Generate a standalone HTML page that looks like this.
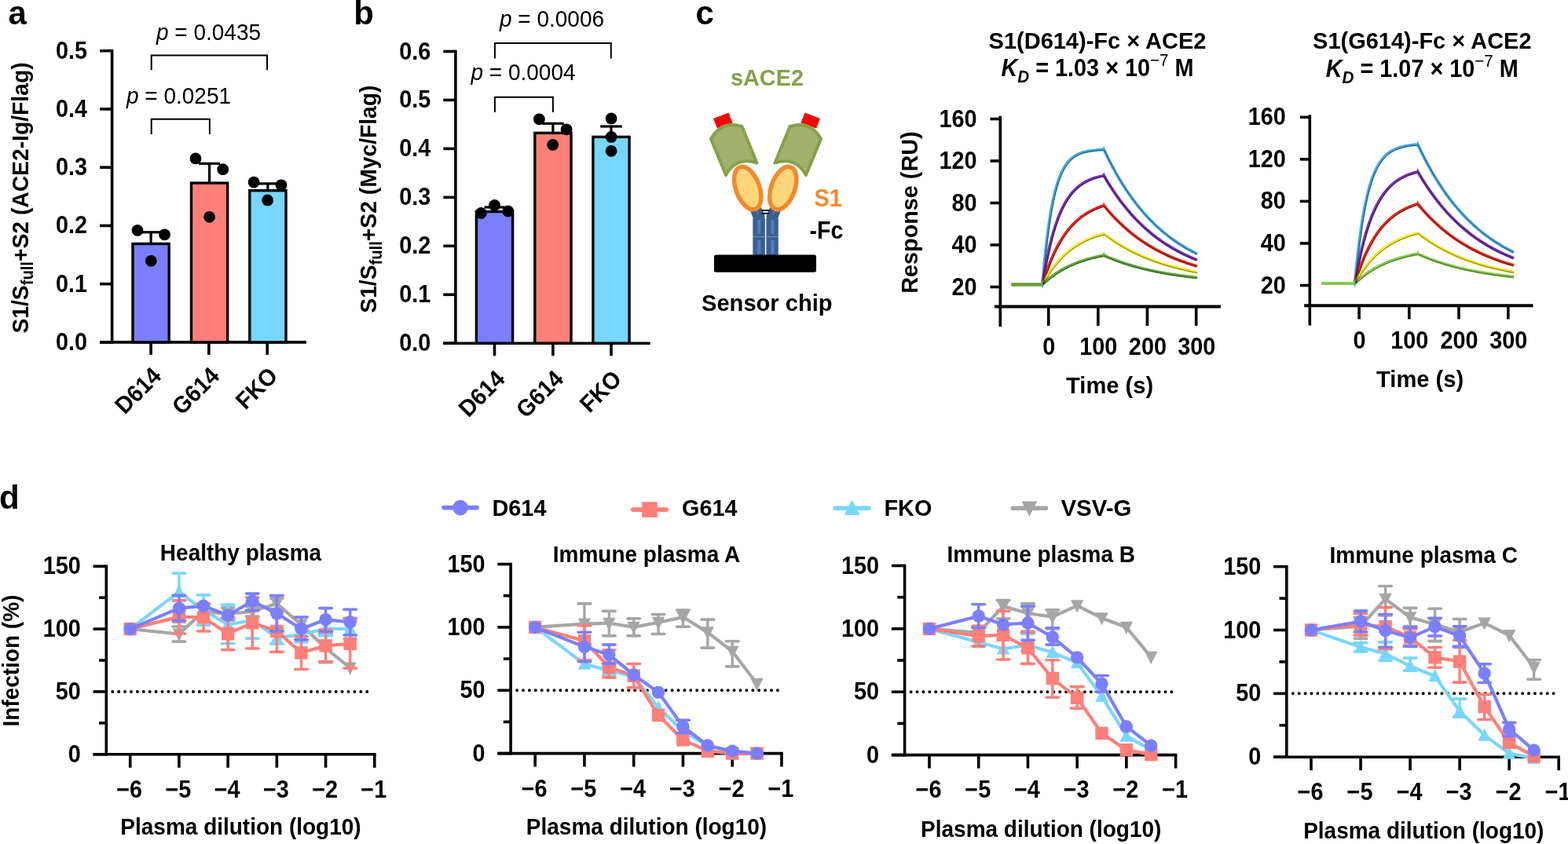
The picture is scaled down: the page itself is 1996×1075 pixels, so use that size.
<!DOCTYPE html>
<html><head><meta charset="utf-8"><title>Figure</title>
<style>
html,body{margin:0;padding:0;background:#fff;width:1996px;height:1075px;overflow:hidden;}
svg{display:block;}
text{font-family:"Liberation Sans",Arial,Helvetica,sans-serif;}
</style></head><body>
<svg width="1996" height="1075" viewBox="0 0 1996 1075">
<rect width="1996" height="1075" fill="#fff"/>
<text transform="translate(10.5,30.5) scale(1,1)" font-size="42" font-weight="bold" text-anchor="start" fill="#000">a</text>
<text transform="translate(450.2,30.5) scale(1,1)" font-size="42" font-weight="bold" text-anchor="start" fill="#000">b</text>
<text transform="translate(885.5,31) scale(1,1)" font-size="42" font-weight="bold" text-anchor="start" fill="#000">c</text>
<text transform="translate(-1,648) scale(1,1)" font-size="42" font-weight="bold" text-anchor="start" fill="#000">d</text>
<line x1="142.6" y1="62.9" x2="142.6" y2="437.7" stroke="#000" stroke-width="3.6" stroke-linecap="butt"/>
<line x1="127" y1="435.9" x2="142.6" y2="435.9" stroke="#000" stroke-width="3.6" stroke-linecap="butt"/>
<text transform="translate(111.1,445.9) scale(1.03,1.1)" font-size="28" font-weight="bold" text-anchor="end" fill="#000">0.0</text>
<line x1="127" y1="361.66" x2="142.6" y2="361.66" stroke="#000" stroke-width="3.6" stroke-linecap="butt"/>
<text transform="translate(111.1,371.66) scale(1.03,1.1)" font-size="28" font-weight="bold" text-anchor="end" fill="#000">0.1</text>
<line x1="127" y1="287.42" x2="142.6" y2="287.42" stroke="#000" stroke-width="3.6" stroke-linecap="butt"/>
<text transform="translate(111.1,297.42) scale(1.03,1.1)" font-size="28" font-weight="bold" text-anchor="end" fill="#000">0.2</text>
<line x1="127" y1="213.18" x2="142.6" y2="213.18" stroke="#000" stroke-width="3.6" stroke-linecap="butt"/>
<text transform="translate(111.1,223.18) scale(1.03,1.1)" font-size="28" font-weight="bold" text-anchor="end" fill="#000">0.3</text>
<line x1="127" y1="138.94" x2="142.6" y2="138.94" stroke="#000" stroke-width="3.6" stroke-linecap="butt"/>
<text transform="translate(111.1,148.94) scale(1.03,1.1)" font-size="28" font-weight="bold" text-anchor="end" fill="#000">0.4</text>
<line x1="127" y1="64.7" x2="142.6" y2="64.7" stroke="#000" stroke-width="3.6" stroke-linecap="butt"/>
<text transform="translate(111.1,74.7) scale(1.03,1.1)" font-size="28" font-weight="bold" text-anchor="end" fill="#000">0.5</text>
<line x1="127" y1="435.9" x2="390" y2="435.9" stroke="#000" stroke-width="3.6" stroke-linecap="butt"/>
<line x1="192.1" y1="435.9" x2="192.1" y2="451.9" stroke="#000" stroke-width="3.6" stroke-linecap="butt"/>
<line x1="265.9" y1="435.9" x2="265.9" y2="451.9" stroke="#000" stroke-width="3.6" stroke-linecap="butt"/>
<line x1="340.2" y1="435.9" x2="340.2" y2="451.9" stroke="#000" stroke-width="3.6" stroke-linecap="butt"/>
<rect x="169" y="310.5" width="46.2" height="125.4" fill="#7B7FFF" stroke="#000" stroke-width="3.4"/>
<rect x="243.5" y="233.1" width="46.2" height="202.8" fill="#FF7F79" stroke="#000" stroke-width="3.4"/>
<rect x="317.8" y="242.7" width="46.2" height="193.2" fill="#78D7FF" stroke="#000" stroke-width="3.4"/>
<line x1="192.1" y1="310.5" x2="192.1" y2="295.8" stroke="#000" stroke-width="3.2" stroke-linecap="butt"/>
<line x1="179.8" y1="295.8" x2="204.4" y2="295.8" stroke="#000" stroke-width="3.2" stroke-linecap="butt"/>
<line x1="266.6" y1="233.1" x2="266.6" y2="208.3" stroke="#000" stroke-width="3.2" stroke-linecap="butt"/>
<line x1="253.1" y1="208.3" x2="280.1" y2="208.3" stroke="#000" stroke-width="3.2" stroke-linecap="butt"/>
<line x1="340.9" y1="242.7" x2="340.9" y2="233.9" stroke="#000" stroke-width="3.2" stroke-linecap="butt"/>
<line x1="327.4" y1="233.9" x2="354.4" y2="233.9" stroke="#000" stroke-width="3.2" stroke-linecap="butt"/>
<circle cx="175" cy="293.4" r="7.4" fill="#000"/>
<circle cx="209.5" cy="298.8" r="7.4" fill="#000"/>
<circle cx="192.3" cy="332.3" r="7.4" fill="#000"/>
<circle cx="249" cy="201.9" r="7.4" fill="#000"/>
<circle cx="283.7" cy="215.7" r="7.4" fill="#000"/>
<circle cx="266.6" cy="276.3" r="7.4" fill="#000"/>
<circle cx="323.1" cy="232.1" r="7.4" fill="#000"/>
<circle cx="358" cy="235.8" r="7.4" fill="#000"/>
<circle cx="340.6" cy="254.9" r="7.4" fill="#000"/>
<path d="M192.7 89.2V70.6H340V89.2" fill="none" stroke="#000" stroke-width="2"/>
<path d="M192.7 171.1V151.8H266.9V171.1" fill="none" stroke="#000" stroke-width="2"/>
<text transform="translate(265.5,50.5) scale(1,1.08)" font-size="28" text-anchor="middle"><tspan font-style="italic">p</tspan> = 0.0435</text>
<text transform="translate(227.5,131.7) scale(1,1.08)" font-size="28" text-anchor="middle"><tspan font-style="italic">p</tspan> = 0.0251</text>
<text transform="translate(207.1,480.5) rotate(-45) scale(1.02,1.08)" font-size="28" font-weight="bold" text-anchor="end" fill="#000">D614</text>
<text transform="translate(280.9,480.5) rotate(-45) scale(1.02,1.08)" font-size="28" font-weight="bold" text-anchor="end" fill="#000">G614</text>
<text transform="translate(355.2,480.5) rotate(-45) scale(1.02,1.08)" font-size="28" font-weight="bold" text-anchor="end" fill="#000">FKO</text>
<text transform="translate(35.6,252) rotate(-90) scale(1.01,1.06)" font-size="28" font-weight="bold" text-anchor="middle" fill="#000">S1/S<tspan font-size="20" dy="6">full</tspan><tspan dy="-6">+S2 (ACE2-Ig/Flag)</tspan></text>
<line x1="579.9" y1="63.7" x2="579.9" y2="439" stroke="#000" stroke-width="3.6" stroke-linecap="butt"/>
<line x1="564.3" y1="437.2" x2="579.9" y2="437.2" stroke="#000" stroke-width="3.6" stroke-linecap="butt"/>
<text transform="translate(548.4,447.2) scale(1.03,1.1)" font-size="28" font-weight="bold" text-anchor="end" fill="#000">0.0</text>
<line x1="564.3" y1="375.25" x2="579.9" y2="375.25" stroke="#000" stroke-width="3.6" stroke-linecap="butt"/>
<text transform="translate(548.4,385.25) scale(1.03,1.1)" font-size="28" font-weight="bold" text-anchor="end" fill="#000">0.1</text>
<line x1="564.3" y1="313.3" x2="579.9" y2="313.3" stroke="#000" stroke-width="3.6" stroke-linecap="butt"/>
<text transform="translate(548.4,323.3) scale(1.03,1.1)" font-size="28" font-weight="bold" text-anchor="end" fill="#000">0.2</text>
<line x1="564.3" y1="251.35" x2="579.9" y2="251.35" stroke="#000" stroke-width="3.6" stroke-linecap="butt"/>
<text transform="translate(548.4,261.35) scale(1.03,1.1)" font-size="28" font-weight="bold" text-anchor="end" fill="#000">0.3</text>
<line x1="564.3" y1="189.4" x2="579.9" y2="189.4" stroke="#000" stroke-width="3.6" stroke-linecap="butt"/>
<text transform="translate(548.4,199.4) scale(1.03,1.1)" font-size="28" font-weight="bold" text-anchor="end" fill="#000">0.4</text>
<line x1="564.3" y1="127.45" x2="579.9" y2="127.45" stroke="#000" stroke-width="3.6" stroke-linecap="butt"/>
<text transform="translate(548.4,137.45) scale(1.03,1.1)" font-size="28" font-weight="bold" text-anchor="end" fill="#000">0.5</text>
<line x1="564.3" y1="65.5" x2="579.9" y2="65.5" stroke="#000" stroke-width="3.6" stroke-linecap="butt"/>
<text transform="translate(548.4,75.5) scale(1.03,1.1)" font-size="28" font-weight="bold" text-anchor="end" fill="#000">0.6</text>
<line x1="564.3" y1="437.2" x2="827.7" y2="437.2" stroke="#000" stroke-width="3.6" stroke-linecap="butt"/>
<line x1="629.5" y1="437.2" x2="629.5" y2="453.2" stroke="#000" stroke-width="3.6" stroke-linecap="butt"/>
<line x1="703.9" y1="437.2" x2="703.9" y2="453.2" stroke="#000" stroke-width="3.6" stroke-linecap="butt"/>
<line x1="778" y1="437.2" x2="778" y2="453.2" stroke="#000" stroke-width="3.6" stroke-linecap="butt"/>
<rect x="606.4" y="269.5" width="46.2" height="167.7" fill="#7B7FFF" stroke="#000" stroke-width="3.4"/>
<rect x="680.8" y="169.4" width="46.2" height="267.8" fill="#FF7F79" stroke="#000" stroke-width="3.4"/>
<rect x="754.9" y="174.4" width="46.2" height="262.8" fill="#78D7FF" stroke="#000" stroke-width="3.4"/>
<line x1="629.5" y1="269.5" x2="629.5" y2="264" stroke="#000" stroke-width="3.2" stroke-linecap="butt"/>
<line x1="616.5" y1="264" x2="642.5" y2="264" stroke="#000" stroke-width="3.2" stroke-linecap="butt"/>
<line x1="703.9" y1="169.4" x2="703.9" y2="157.3" stroke="#000" stroke-width="3.2" stroke-linecap="butt"/>
<line x1="690.1" y1="157.3" x2="717.7" y2="157.3" stroke="#000" stroke-width="3.2" stroke-linecap="butt"/>
<line x1="778" y1="174.4" x2="778" y2="161" stroke="#000" stroke-width="3.2" stroke-linecap="butt"/>
<line x1="764.2" y1="161" x2="791.8" y2="161" stroke="#000" stroke-width="3.2" stroke-linecap="butt"/>
<circle cx="629.5" cy="261.5" r="7.4" fill="#000"/>
<circle cx="612.4" cy="271.5" r="7.4" fill="#000"/>
<circle cx="646.8" cy="269" r="7.4" fill="#000"/>
<circle cx="686.4" cy="151.8" r="7.4" fill="#000"/>
<circle cx="721.1" cy="164.8" r="7.4" fill="#000"/>
<circle cx="703.7" cy="184.4" r="7.4" fill="#000"/>
<circle cx="778.1" cy="150.9" r="7.4" fill="#000"/>
<circle cx="778.1" cy="174.4" r="7.4" fill="#000"/>
<circle cx="778.1" cy="192.3" r="7.4" fill="#000"/>
<path d="M629.9 74.4V55.1H777.8V74.4" fill="none" stroke="#000" stroke-width="2"/>
<path d="M629.9 142.9V123.8H703.9V142.9" fill="none" stroke="#000" stroke-width="2"/>
<text transform="translate(702.5,33.9) scale(1,1.08)" font-size="28" text-anchor="middle"><tspan font-style="italic">p</tspan> = 0.0006</text>
<text transform="translate(666,102.4) scale(1,1.08)" font-size="28" text-anchor="middle"><tspan font-style="italic">p</tspan> = 0.0004</text>
<text transform="translate(644.5,484.5) rotate(-45) scale(1.02,1.08)" font-size="28" font-weight="bold" text-anchor="end" fill="#000">D614</text>
<text transform="translate(718.9,484.5) rotate(-45) scale(1.02,1.08)" font-size="28" font-weight="bold" text-anchor="end" fill="#000">G614</text>
<text transform="translate(793,484.5) rotate(-45) scale(1.02,1.08)" font-size="28" font-weight="bold" text-anchor="end" fill="#000">FKO</text>
<text transform="translate(479.3,253.6) rotate(-90) scale(1.01,1.06)" font-size="28" font-weight="bold" text-anchor="middle" fill="#000">S1/S<tspan font-size="20" dy="6">full</tspan><tspan dy="-6">+S2 (Myc/Flag)</tspan></text>
<path d="M958.3,277 L955.5,269.5 Q958,263 962.5,262.5 L969,264.5 L973.8,276 Z" fill="#3B5F8E"/>
<path d="M990.7,277 L993.5,269.5 Q991,263 986.5,262.5 L980,264.5 L975.2,276 Z" fill="#3B5F8E"/>
<line x1="962.8" y1="268" x2="965.3" y2="272.8" stroke="#4F7FC0" stroke-width="1.6" stroke-linecap="butt"/>
<line x1="986.2" y1="268" x2="983.7" y2="272.8" stroke="#4F7FC0" stroke-width="1.6" stroke-linecap="butt"/>
<rect x="958.3" y="273" width="15.6" height="57.5" rx="6" fill="#3B5F8E"/>
<rect x="975.4" y="273" width="15.4" height="57.5" rx="6" fill="#3B5F8E"/>
<rect x="964.2" y="279.8" width="4.2" height="18" fill="#4F7FC0"/>
<rect x="964.2" y="305.8" width="4.2" height="17.7" fill="#4F7FC0"/>
<rect x="981.2" y="279.8" width="4.2" height="18" fill="#4F7FC0"/>
<rect x="981.2" y="305.8" width="4.2" height="17.7" fill="#4F7FC0"/>
<line x1="958" y1="301.6" x2="991" y2="301.6" stroke="#7fa0cc" stroke-width="0.8" stroke-linecap="butt"/>
<line x1="969.6" y1="268" x2="979.4" y2="268" stroke="#000" stroke-width="2" stroke-linecap="butt"/>
<line x1="969.6" y1="271.8" x2="979.4" y2="271.8" stroke="#000" stroke-width="2" stroke-linecap="butt"/>
<rect x="909" y="324.4" width="130" height="22.3" rx="2.5" fill="#000"/>
<ellipse cx="951.75" cy="239.6" rx="15" ry="28.5" transform="rotate(-20 951.75 239.6)" fill="#FFD57A" stroke="#F28A2E" stroke-width="5.6"/>
<ellipse cx="996.75" cy="239.6" rx="15" ry="28.5" transform="rotate(20 996.75 239.6)" fill="#FFD57A" stroke="#F28A2E" stroke-width="5.6"/>
<path d="M908.1,150.9 L927.4,143.5 L932.6,156.5 L913,163.5 Z" fill="#FF0000"/>
<path d="M908.1,150.9 L927.4,143.5 L932.6,156.5 L913,163.5 Z" fill="#FF0000" transform="translate(1952,0) scale(-1,1)"/>
<path d="M905,177 Q918,153 944.5,161 L963.5,207.5 Q937,199 924,223 Z" fill="#A1B06C" stroke="#86A04A" stroke-width="4" stroke-linejoin="round"/>
<path d="M905,177 Q918,153 944.5,161 L963.5,207.5 Q937,199 924,223 Z" fill="#A1B06C" stroke="#86A04A" stroke-width="4" stroke-linejoin="round" transform="translate(1950,0) scale(-1,1)"/>
<text transform="translate(930,109.4) scale(1.03,1.06)" font-size="28" font-weight="bold" text-anchor="start" fill="#86A04A">sACE2</text>
<text transform="translate(1036.5,262.6) scale(1.03,1.13)" font-size="28" font-weight="bold" text-anchor="start" fill="#F28A2E">S1</text>
<text transform="translate(1030.5,303.5) scale(1.02,1.1)" font-size="28" font-weight="bold" text-anchor="start" fill="#000">-Fc</text>
<text transform="translate(893,395.6) scale(1.04,1.06)" font-size="28" font-weight="bold" text-anchor="start" fill="#000">Sensor chip</text>
<line x1="1273.3" y1="147.7" x2="1273.3" y2="416" stroke="#000" stroke-width="3.6" stroke-linecap="butt"/>
<line x1="1260.5" y1="151.5" x2="1273.3" y2="151.5" stroke="#000" stroke-width="3.6" stroke-linecap="butt"/>
<text transform="translate(1243.6,161.5) scale(1.03,1.1)" font-size="28" font-weight="bold" text-anchor="end" fill="#000">160</text>
<line x1="1260.5" y1="205" x2="1273.3" y2="205" stroke="#000" stroke-width="3.6" stroke-linecap="butt"/>
<text transform="translate(1243.6,215) scale(1.03,1.1)" font-size="28" font-weight="bold" text-anchor="end" fill="#000">120</text>
<line x1="1260.5" y1="258.5" x2="1273.3" y2="258.5" stroke="#000" stroke-width="3.6" stroke-linecap="butt"/>
<text transform="translate(1243.6,268.5) scale(1.03,1.1)" font-size="28" font-weight="bold" text-anchor="end" fill="#000">80</text>
<line x1="1260.5" y1="312" x2="1273.3" y2="312" stroke="#000" stroke-width="3.6" stroke-linecap="butt"/>
<text transform="translate(1243.6,322) scale(1.03,1.1)" font-size="28" font-weight="bold" text-anchor="end" fill="#000">40</text>
<line x1="1260.5" y1="365.5" x2="1273.3" y2="365.5" stroke="#000" stroke-width="3.6" stroke-linecap="butt"/>
<text transform="translate(1243.6,375.5) scale(1.03,1.1)" font-size="28" font-weight="bold" text-anchor="end" fill="#000">20</text>
<line x1="1266" y1="390.6" x2="1554" y2="390.6" stroke="#000" stroke-width="4" stroke-linecap="butt"/>
<line x1="1334.7" y1="390.6" x2="1334.7" y2="415" stroke="#000" stroke-width="3.6" stroke-linecap="butt"/>
<text transform="translate(1335.2,451.9) scale(1.03,1.1)" font-size="28" font-weight="bold" text-anchor="middle" fill="#000">0</text>
<line x1="1397.8" y1="390.6" x2="1397.8" y2="415" stroke="#000" stroke-width="3.6" stroke-linecap="butt"/>
<text transform="translate(1398.3,451.9) scale(1.03,1.1)" font-size="28" font-weight="bold" text-anchor="middle" fill="#000">100</text>
<line x1="1460.4" y1="390.6" x2="1460.4" y2="415" stroke="#000" stroke-width="3.6" stroke-linecap="butt"/>
<text transform="translate(1460.9,451.9) scale(1.03,1.1)" font-size="28" font-weight="bold" text-anchor="middle" fill="#000">200</text>
<line x1="1522.7" y1="390.6" x2="1522.7" y2="415" stroke="#000" stroke-width="3.6" stroke-linecap="butt"/>
<text transform="translate(1523.2,451.9) scale(1.03,1.1)" font-size="28" font-weight="bold" text-anchor="middle" fill="#000">300</text>
<text transform="translate(1412.6,500.8) scale(1.04,1.05)" font-size="28" font-weight="bold" text-anchor="middle" fill="#000">Time (s)</text>
<text transform="translate(1397,62.3) scale(1,1.02)" font-size="29" font-weight="bold" text-anchor="middle" fill="#000">S1(D614)-Fc × ACE2</text>
<text transform="translate(1397,97.4) scale(1.03,1.1)" font-size="28" font-weight="bold" text-anchor="middle"><tspan font-style="italic">K</tspan><tspan font-style="italic" font-size="20" dy="7">D</tspan><tspan dy="-7"> = 1.03 × 10</tspan><tspan font-size="20" font-weight="normal" dy="-12">−7</tspan><tspan dy="12"> M</tspan></text>
<path d="M1287.6,362.4 L1327,362.4 L1328.95,339.75 L1330.91,320.07 L1332.87,302.98 L1334.82,288.13 L1336.78,275.23 L1338.73,264.02 L1340.68,254.29 L1342.64,245.83 L1344.6,238.48 L1346.55,232.1 L1348.51,226.56 L1350.46,221.74 L1352.41,217.56 L1354.37,213.92 L1356.33,210.77 L1358.28,208.03 L1360.24,205.64 L1362.19,203.57 L1364.14,201.78 L1366.1,200.21 L1368.06,198.86 L1370.01,197.68 L1371.96,196.65 L1373.92,195.77 L1375.88,194.99 L1377.83,194.32 L1379.79,193.74 L1381.74,193.23 L1383.69,192.79 L1385.65,192.41 L1387.61,192.08 L1389.56,191.79 L1391.52,191.54 L1393.47,191.32 L1395.42,191.13 L1397.38,190.97 L1399.34,190.83 L1401.29,190.7 L1403.25,190.59 L1405.2,190.5 L1408.16,196.75 L1411.13,202.77 L1414.1,208.57 L1417.06,214.16 L1420.03,219.55 L1422.99,224.74 L1425.95,229.74 L1428.92,234.56 L1431.88,239.21 L1434.85,243.69 L1437.82,248 L1440.78,252.16 L1443.75,256.16 L1446.71,260.03 L1449.67,263.75 L1452.64,267.33 L1455.61,270.79 L1458.57,274.12 L1461.54,277.32 L1464.5,280.42 L1467.46,283.4 L1470.43,286.27 L1473.39,289.03 L1476.36,291.7 L1479.33,294.27 L1482.29,296.75 L1485.25,299.13 L1488.22,301.43 L1491.18,303.65 L1494.15,305.78 L1497.12,307.84 L1500.08,309.82 L1503.05,311.73 L1506.01,313.58 L1508.97,315.35 L1511.94,317.06 L1514.9,318.71 L1517.87,320.3 L1520.84,321.83 L1523.8,323.3" fill="none" stroke="#48A9DA" stroke-width="3.8" stroke-linejoin="round"/>
<path d="M1287.6,362.4 L1327,362.4 L1328.95,350.36 L1330.91,339.34 L1332.87,329.24 L1334.82,320 L1336.78,311.53 L1338.73,303.78 L1340.68,296.68 L1342.64,290.18 L1344.6,284.22 L1346.55,278.77 L1348.51,273.77 L1350.46,269.2 L1352.41,265.01 L1354.37,261.17 L1356.33,257.66 L1358.28,254.45 L1360.24,251.5 L1362.19,248.8 L1364.14,246.33 L1366.1,244.07 L1368.06,242 L1370.01,240.1 L1371.96,238.36 L1373.92,236.77 L1375.88,235.31 L1377.83,233.98 L1379.79,232.76 L1381.74,231.64 L1383.69,230.61 L1385.65,229.67 L1387.61,228.81 L1389.56,228.03 L1391.52,227.3 L1393.47,226.64 L1395.42,226.04 L1397.38,225.49 L1399.34,224.98 L1401.29,224.51 L1403.25,224.09 L1405.2,223.7 L1408.16,228.77 L1411.13,233.65 L1414.1,238.35 L1417.06,242.88 L1420.03,247.25 L1422.99,251.46 L1425.95,255.51 L1428.92,259.42 L1431.88,263.18 L1434.85,266.8 L1437.82,270.3 L1440.78,273.66 L1443.75,276.9 L1446.71,280.03 L1449.67,283.04 L1452.64,285.93 L1455.61,288.73 L1458.57,291.42 L1461.54,294.01 L1464.5,296.51 L1467.46,298.92 L1470.43,301.24 L1473.39,303.47 L1476.36,305.62 L1479.33,307.7 L1482.29,309.7 L1485.25,311.62 L1488.22,313.48 L1491.18,315.27 L1494.15,316.99 L1497.12,318.65 L1500.08,320.24 L1503.05,321.78 L1506.01,323.27 L1508.97,324.7 L1511.94,326.08 L1514.9,327.4 L1517.87,328.68 L1520.84,329.91 L1523.8,331.1" fill="none" stroke="#7632A6" stroke-width="3.8" stroke-linejoin="round"/>
<path d="M1287.6,362.4 L1327,362.4 L1328.95,356.06 L1330.91,350.09 L1332.87,344.45 L1334.82,339.14 L1336.78,334.12 L1338.73,329.4 L1340.68,324.94 L1342.64,320.74 L1344.6,316.77 L1346.55,313.03 L1348.51,309.51 L1350.46,306.18 L1352.41,303.05 L1354.37,300.09 L1356.33,297.3 L1358.28,294.68 L1360.24,292.2 L1362.19,289.86 L1364.14,287.65 L1366.1,285.57 L1368.06,283.61 L1370.01,281.76 L1371.96,280.02 L1373.92,278.37 L1375.88,276.82 L1377.83,275.36 L1379.79,273.98 L1381.74,272.68 L1383.69,271.45 L1385.65,270.3 L1387.61,269.21 L1389.56,268.18 L1391.52,267.21 L1393.47,266.29 L1395.42,265.43 L1397.38,264.62 L1399.34,263.85 L1401.29,263.13 L1403.25,262.44 L1405.2,261.8 L1408.16,265.4 L1411.13,268.87 L1414.1,272.22 L1417.06,275.45 L1420.03,278.57 L1422.99,281.57 L1425.95,284.46 L1428.92,287.25 L1431.88,289.94 L1434.85,292.54 L1437.82,295.04 L1440.78,297.45 L1443.75,299.77 L1446.71,302.02 L1449.67,304.18 L1452.64,306.26 L1455.61,308.27 L1458.57,310.21 L1461.54,312.08 L1464.5,313.88 L1467.46,315.62 L1470.43,317.29 L1473.39,318.91 L1476.36,320.47 L1479.33,321.97 L1482.29,323.41 L1485.25,324.81 L1488.22,326.16 L1491.18,327.45 L1494.15,328.71 L1497.12,329.91 L1500.08,331.07 L1503.05,332.2 L1506.01,333.28 L1508.97,334.32 L1511.94,335.33 L1514.9,336.3 L1517.87,337.23 L1520.84,338.13 L1523.8,339" fill="none" stroke="#DC2A1E" stroke-width="3.8" stroke-linejoin="round"/>
<path d="M1287.6,362.4 L1327,362.4 L1328.95,358.82 L1330.91,355.4 L1332.87,352.15 L1334.82,349.06 L1336.78,346.11 L1338.73,343.3 L1340.68,340.63 L1342.64,338.08 L1344.6,335.66 L1346.55,333.35 L1348.51,331.15 L1350.46,329.06 L1352.41,327.07 L1354.37,325.17 L1356.33,323.36 L1358.28,321.64 L1360.24,320 L1362.19,318.44 L1364.14,316.95 L1366.1,315.53 L1368.06,314.19 L1370.01,312.9 L1371.96,311.68 L1373.92,310.51 L1375.88,309.4 L1377.83,308.35 L1379.79,307.34 L1381.74,306.38 L1383.69,305.47 L1385.65,304.6 L1387.61,303.78 L1389.56,302.99 L1391.52,302.24 L1393.47,301.52 L1395.42,300.84 L1397.38,300.2 L1399.34,299.58 L1401.29,298.99 L1403.25,298.43 L1405.2,297.9 L1408.16,300.15 L1411.13,302.32 L1414.1,304.41 L1417.06,306.44 L1420.03,308.39 L1422.99,310.27 L1425.95,312.09 L1428.92,313.84 L1431.88,315.53 L1434.85,317.17 L1437.82,318.74 L1440.78,320.27 L1443.75,321.74 L1446.71,323.15 L1449.67,324.52 L1452.64,325.84 L1455.61,327.12 L1458.57,328.35 L1461.54,329.53 L1464.5,330.68 L1467.46,331.79 L1470.43,332.85 L1473.39,333.88 L1476.36,334.88 L1479.33,335.84 L1482.29,336.76 L1485.25,337.66 L1488.22,338.52 L1491.18,339.35 L1494.15,340.15 L1497.12,340.93 L1500.08,341.68 L1503.05,342.4 L1506.01,343.1 L1508.97,343.77 L1511.94,344.42 L1514.9,345.05 L1517.87,345.65 L1520.84,346.24 L1523.8,346.8" fill="none" stroke="#F2E62C" stroke-width="3.8" stroke-linejoin="round"/>
<path d="M1287.6,362.4 L1327,362.4 L1328.95,360.55 L1330.91,358.77 L1332.87,357.07 L1334.82,355.43 L1336.78,353.86 L1338.73,352.36 L1340.68,350.91 L1342.64,349.52 L1344.6,348.19 L1346.55,346.91 L1348.51,345.68 L1350.46,344.5 L1352.41,343.37 L1354.37,342.29 L1356.33,341.25 L1358.28,340.25 L1360.24,339.29 L1362.19,338.37 L1364.14,337.48 L1366.1,336.64 L1368.06,335.82 L1370.01,335.04 L1371.96,334.29 L1373.92,333.57 L1375.88,332.88 L1377.83,332.22 L1379.79,331.58 L1381.74,330.97 L1383.69,330.38 L1385.65,329.82 L1387.61,329.28 L1389.56,328.76 L1391.52,328.26 L1393.47,327.79 L1395.42,327.33 L1397.38,326.89 L1399.34,326.47 L1401.29,326.06 L1403.25,325.67 L1405.2,325.3 L1408.16,326.61 L1411.13,327.88 L1414.1,329.1 L1417.06,330.27 L1420.03,331.41 L1422.99,332.5 L1425.95,333.56 L1428.92,334.58 L1431.88,335.56 L1434.85,336.51 L1437.82,337.42 L1440.78,338.31 L1443.75,339.16 L1446.71,339.98 L1449.67,340.77 L1452.64,341.54 L1455.61,342.27 L1458.57,342.98 L1461.54,343.67 L1464.5,344.33 L1467.46,344.97 L1470.43,345.59 L1473.39,346.18 L1476.36,346.75 L1479.33,347.31 L1482.29,347.84 L1485.25,348.35 L1488.22,348.85 L1491.18,349.33 L1494.15,349.79 L1497.12,350.24 L1500.08,350.67 L1503.05,351.08 L1506.01,351.48 L1508.97,351.87 L1511.94,352.24 L1514.9,352.6 L1517.87,352.94 L1520.84,353.28 L1523.8,353.6" fill="none" stroke="#62A63E" stroke-width="3.8" stroke-linejoin="round"/>
<path d="M1327,362.4 L1328.95,339.75 L1330.91,320.07 L1332.87,302.98 L1334.82,288.13 L1336.78,275.23 L1338.73,264.02 L1340.68,254.29 L1342.64,245.83 L1344.6,238.48 L1346.55,232.1 L1348.51,226.56 L1350.46,221.74 L1352.41,217.56 L1354.37,213.92 L1356.33,210.77 L1358.28,208.03 L1360.24,205.64 L1362.19,203.57 L1364.14,201.78 L1366.1,200.21 L1368.06,198.86 L1370.01,197.68 L1371.96,196.65 L1373.92,195.77 L1375.88,194.99 L1377.83,194.32 L1379.79,193.74 L1381.74,193.23 L1383.69,192.79 L1385.65,192.41 L1387.61,192.08 L1389.56,191.79 L1391.52,191.54 L1393.47,191.32 L1395.42,191.13 L1397.38,190.97 L1399.34,190.83 L1401.29,190.7 L1403.25,190.59 L1405.2,190.5 L1408.16,196.75 L1411.13,202.77 L1414.1,208.57 L1417.06,214.16 L1420.03,219.55 L1422.99,224.74 L1425.95,229.74 L1428.92,234.56 L1431.88,239.21 L1434.85,243.69 L1437.82,248 L1440.78,252.16 L1443.75,256.16 L1446.71,260.03 L1449.67,263.75 L1452.64,267.33 L1455.61,270.79 L1458.57,274.12 L1461.54,277.32 L1464.5,280.42 L1467.46,283.4 L1470.43,286.27 L1473.39,289.03 L1476.36,291.7 L1479.33,294.27 L1482.29,296.75 L1485.25,299.13 L1488.22,301.43 L1491.18,303.65 L1494.15,305.78 L1497.12,307.84 L1500.08,309.82 L1503.05,311.73 L1506.01,313.58 L1508.97,315.35 L1511.94,317.06 L1514.9,318.71 L1517.87,320.3 L1520.84,321.83 L1523.8,323.3" fill="none" stroke="#000" stroke-width="0.75" stroke-linejoin="round" opacity="0.65" transform="translate(0.7,0.8)"/>
<path d="M1327,362.4 L1328.95,350.36 L1330.91,339.34 L1332.87,329.24 L1334.82,320 L1336.78,311.53 L1338.73,303.78 L1340.68,296.68 L1342.64,290.18 L1344.6,284.22 L1346.55,278.77 L1348.51,273.77 L1350.46,269.2 L1352.41,265.01 L1354.37,261.17 L1356.33,257.66 L1358.28,254.45 L1360.24,251.5 L1362.19,248.8 L1364.14,246.33 L1366.1,244.07 L1368.06,242 L1370.01,240.1 L1371.96,238.36 L1373.92,236.77 L1375.88,235.31 L1377.83,233.98 L1379.79,232.76 L1381.74,231.64 L1383.69,230.61 L1385.65,229.67 L1387.61,228.81 L1389.56,228.03 L1391.52,227.3 L1393.47,226.64 L1395.42,226.04 L1397.38,225.49 L1399.34,224.98 L1401.29,224.51 L1403.25,224.09 L1405.2,223.7 L1408.16,228.77 L1411.13,233.65 L1414.1,238.35 L1417.06,242.88 L1420.03,247.25 L1422.99,251.46 L1425.95,255.51 L1428.92,259.42 L1431.88,263.18 L1434.85,266.8 L1437.82,270.3 L1440.78,273.66 L1443.75,276.9 L1446.71,280.03 L1449.67,283.04 L1452.64,285.93 L1455.61,288.73 L1458.57,291.42 L1461.54,294.01 L1464.5,296.51 L1467.46,298.92 L1470.43,301.24 L1473.39,303.47 L1476.36,305.62 L1479.33,307.7 L1482.29,309.7 L1485.25,311.62 L1488.22,313.48 L1491.18,315.27 L1494.15,316.99 L1497.12,318.65 L1500.08,320.24 L1503.05,321.78 L1506.01,323.27 L1508.97,324.7 L1511.94,326.08 L1514.9,327.4 L1517.87,328.68 L1520.84,329.91 L1523.8,331.1" fill="none" stroke="#000" stroke-width="0.75" stroke-linejoin="round" opacity="0.65" transform="translate(0.7,0.8)"/>
<path d="M1327,362.4 L1328.95,356.06 L1330.91,350.09 L1332.87,344.45 L1334.82,339.14 L1336.78,334.12 L1338.73,329.4 L1340.68,324.94 L1342.64,320.74 L1344.6,316.77 L1346.55,313.03 L1348.51,309.51 L1350.46,306.18 L1352.41,303.05 L1354.37,300.09 L1356.33,297.3 L1358.28,294.68 L1360.24,292.2 L1362.19,289.86 L1364.14,287.65 L1366.1,285.57 L1368.06,283.61 L1370.01,281.76 L1371.96,280.02 L1373.92,278.37 L1375.88,276.82 L1377.83,275.36 L1379.79,273.98 L1381.74,272.68 L1383.69,271.45 L1385.65,270.3 L1387.61,269.21 L1389.56,268.18 L1391.52,267.21 L1393.47,266.29 L1395.42,265.43 L1397.38,264.62 L1399.34,263.85 L1401.29,263.13 L1403.25,262.44 L1405.2,261.8 L1408.16,265.4 L1411.13,268.87 L1414.1,272.22 L1417.06,275.45 L1420.03,278.57 L1422.99,281.57 L1425.95,284.46 L1428.92,287.25 L1431.88,289.94 L1434.85,292.54 L1437.82,295.04 L1440.78,297.45 L1443.75,299.77 L1446.71,302.02 L1449.67,304.18 L1452.64,306.26 L1455.61,308.27 L1458.57,310.21 L1461.54,312.08 L1464.5,313.88 L1467.46,315.62 L1470.43,317.29 L1473.39,318.91 L1476.36,320.47 L1479.33,321.97 L1482.29,323.41 L1485.25,324.81 L1488.22,326.16 L1491.18,327.45 L1494.15,328.71 L1497.12,329.91 L1500.08,331.07 L1503.05,332.2 L1506.01,333.28 L1508.97,334.32 L1511.94,335.33 L1514.9,336.3 L1517.87,337.23 L1520.84,338.13 L1523.8,339" fill="none" stroke="#000" stroke-width="0.75" stroke-linejoin="round" opacity="0.65" transform="translate(0.7,0.8)"/>
<path d="M1327,362.4 L1328.95,358.82 L1330.91,355.4 L1332.87,352.15 L1334.82,349.06 L1336.78,346.11 L1338.73,343.3 L1340.68,340.63 L1342.64,338.08 L1344.6,335.66 L1346.55,333.35 L1348.51,331.15 L1350.46,329.06 L1352.41,327.07 L1354.37,325.17 L1356.33,323.36 L1358.28,321.64 L1360.24,320 L1362.19,318.44 L1364.14,316.95 L1366.1,315.53 L1368.06,314.19 L1370.01,312.9 L1371.96,311.68 L1373.92,310.51 L1375.88,309.4 L1377.83,308.35 L1379.79,307.34 L1381.74,306.38 L1383.69,305.47 L1385.65,304.6 L1387.61,303.78 L1389.56,302.99 L1391.52,302.24 L1393.47,301.52 L1395.42,300.84 L1397.38,300.2 L1399.34,299.58 L1401.29,298.99 L1403.25,298.43 L1405.2,297.9 L1408.16,300.15 L1411.13,302.32 L1414.1,304.41 L1417.06,306.44 L1420.03,308.39 L1422.99,310.27 L1425.95,312.09 L1428.92,313.84 L1431.88,315.53 L1434.85,317.17 L1437.82,318.74 L1440.78,320.27 L1443.75,321.74 L1446.71,323.15 L1449.67,324.52 L1452.64,325.84 L1455.61,327.12 L1458.57,328.35 L1461.54,329.53 L1464.5,330.68 L1467.46,331.79 L1470.43,332.85 L1473.39,333.88 L1476.36,334.88 L1479.33,335.84 L1482.29,336.76 L1485.25,337.66 L1488.22,338.52 L1491.18,339.35 L1494.15,340.15 L1497.12,340.93 L1500.08,341.68 L1503.05,342.4 L1506.01,343.1 L1508.97,343.77 L1511.94,344.42 L1514.9,345.05 L1517.87,345.65 L1520.84,346.24 L1523.8,346.8" fill="none" stroke="#000" stroke-width="0.75" stroke-linejoin="round" opacity="0.65" transform="translate(0.7,0.8)"/>
<path d="M1327,362.4 L1328.95,360.55 L1330.91,358.77 L1332.87,357.07 L1334.82,355.43 L1336.78,353.86 L1338.73,352.36 L1340.68,350.91 L1342.64,349.52 L1344.6,348.19 L1346.55,346.91 L1348.51,345.68 L1350.46,344.5 L1352.41,343.37 L1354.37,342.29 L1356.33,341.25 L1358.28,340.25 L1360.24,339.29 L1362.19,338.37 L1364.14,337.48 L1366.1,336.64 L1368.06,335.82 L1370.01,335.04 L1371.96,334.29 L1373.92,333.57 L1375.88,332.88 L1377.83,332.22 L1379.79,331.58 L1381.74,330.97 L1383.69,330.38 L1385.65,329.82 L1387.61,329.28 L1389.56,328.76 L1391.52,328.26 L1393.47,327.79 L1395.42,327.33 L1397.38,326.89 L1399.34,326.47 L1401.29,326.06 L1403.25,325.67 L1405.2,325.3 L1408.16,326.61 L1411.13,327.88 L1414.1,329.1 L1417.06,330.27 L1420.03,331.41 L1422.99,332.5 L1425.95,333.56 L1428.92,334.58 L1431.88,335.56 L1434.85,336.51 L1437.82,337.42 L1440.78,338.31 L1443.75,339.16 L1446.71,339.98 L1449.67,340.77 L1452.64,341.54 L1455.61,342.27 L1458.57,342.98 L1461.54,343.67 L1464.5,344.33 L1467.46,344.97 L1470.43,345.59 L1473.39,346.18 L1476.36,346.75 L1479.33,347.31 L1482.29,347.84 L1485.25,348.35 L1488.22,348.85 L1491.18,349.33 L1494.15,349.79 L1497.12,350.24 L1500.08,350.67 L1503.05,351.08 L1506.01,351.48 L1508.97,351.87 L1511.94,352.24 L1514.9,352.6 L1517.87,352.94 L1520.84,353.28 L1523.8,353.6" fill="none" stroke="#000" stroke-width="0.75" stroke-linejoin="round" opacity="0.65" transform="translate(0.7,0.8)"/>
<path d="M1403.6,191 L1405.2,185.5 L1406.8,191 Z" fill="#48A9DA"/>
<path d="M1403.6,224.2 L1405.2,218.7 L1406.8,224.2 Z" fill="#7632A6"/>
<path d="M1403.6,262.3 L1405.2,256.8 L1406.8,262.3 Z" fill="#DC2A1E"/>
<path d="M1403.6,325.8 L1405.2,320.3 L1406.8,325.8 Z" fill="#62A63E"/>
<path d="M1325.4,361.9 L1327,367.9 L1328.6,361.9 Z" fill="#48A9DA"/>
<line x1="1667.3" y1="146.2" x2="1667.3" y2="414.5" stroke="#000" stroke-width="3.6" stroke-linecap="butt"/>
<line x1="1654.8" y1="149.3" x2="1667.3" y2="149.3" stroke="#000" stroke-width="3.6" stroke-linecap="butt"/>
<text transform="translate(1636.8,159.3) scale(1.03,1.1)" font-size="28" font-weight="bold" text-anchor="end" fill="#000">160</text>
<line x1="1654.8" y1="202.85" x2="1667.3" y2="202.85" stroke="#000" stroke-width="3.6" stroke-linecap="butt"/>
<text transform="translate(1636.8,212.85) scale(1.03,1.1)" font-size="28" font-weight="bold" text-anchor="end" fill="#000">120</text>
<line x1="1654.8" y1="256.4" x2="1667.3" y2="256.4" stroke="#000" stroke-width="3.6" stroke-linecap="butt"/>
<text transform="translate(1636.8,266.4) scale(1.03,1.1)" font-size="28" font-weight="bold" text-anchor="end" fill="#000">80</text>
<line x1="1654.8" y1="309.95" x2="1667.3" y2="309.95" stroke="#000" stroke-width="3.6" stroke-linecap="butt"/>
<text transform="translate(1636.8,319.95) scale(1.03,1.1)" font-size="28" font-weight="bold" text-anchor="end" fill="#000">40</text>
<line x1="1654.8" y1="363.5" x2="1667.3" y2="363.5" stroke="#000" stroke-width="3.6" stroke-linecap="butt"/>
<text transform="translate(1636.8,373.5) scale(1.03,1.1)" font-size="28" font-weight="bold" text-anchor="end" fill="#000">20</text>
<line x1="1660.2" y1="389.2" x2="1951.5" y2="389.2" stroke="#000" stroke-width="4" stroke-linecap="butt"/>
<line x1="1730.1" y1="389.2" x2="1730.1" y2="406.5" stroke="#000" stroke-width="3.6" stroke-linecap="butt"/>
<text transform="translate(1730.6,443.6) scale(1.03,1.1)" font-size="28" font-weight="bold" text-anchor="middle" fill="#000">0</text>
<line x1="1793.8" y1="389.2" x2="1793.8" y2="406.5" stroke="#000" stroke-width="3.6" stroke-linecap="butt"/>
<text transform="translate(1794.3,443.6) scale(1.03,1.1)" font-size="28" font-weight="bold" text-anchor="middle" fill="#000">100</text>
<line x1="1857" y1="389.2" x2="1857" y2="406.5" stroke="#000" stroke-width="3.6" stroke-linecap="butt"/>
<text transform="translate(1857.5,443.6) scale(1.03,1.1)" font-size="28" font-weight="bold" text-anchor="middle" fill="#000">200</text>
<line x1="1919.8" y1="389.2" x2="1919.8" y2="406.5" stroke="#000" stroke-width="3.6" stroke-linecap="butt"/>
<text transform="translate(1920.3,443.6) scale(1.03,1.1)" font-size="28" font-weight="bold" text-anchor="middle" fill="#000">300</text>
<text transform="translate(1807.6,492.5) scale(1.04,1.05)" font-size="28" font-weight="bold" text-anchor="middle" fill="#000">Time (s)</text>
<text transform="translate(1810.3,62.4) scale(1,1.02)" font-size="29" font-weight="bold" text-anchor="middle" fill="#000">S1(G614)-Fc × ACE2</text>
<text transform="translate(1810.3,97.9) scale(1.03,1.1)" font-size="28" font-weight="bold" text-anchor="middle"><tspan font-style="italic">K</tspan><tspan font-style="italic" font-size="20" dy="7">D</tspan><tspan dy="-7"> = 1.07 × 10</tspan><tspan font-size="20" font-weight="normal" dy="-12">−7</tspan><tspan dy="12"> M</tspan></text>
<path d="M1682.7,361 L1724.7,361 L1726.7,339.9 L1728.7,321.3 L1730.71,304.9 L1732.71,290.45 L1734.71,277.71 L1736.72,266.48 L1738.72,256.58 L1740.72,247.85 L1742.72,240.16 L1744.72,233.38 L1746.73,227.4 L1748.73,222.13 L1750.73,217.49 L1752.74,213.4 L1754.74,209.79 L1756.74,206.61 L1758.74,203.8 L1760.74,201.33 L1762.75,199.16 L1764.75,197.24 L1766.75,195.54 L1768.76,194.05 L1770.76,192.74 L1772.76,191.58 L1774.76,190.55 L1776.76,189.65 L1778.77,188.86 L1780.77,188.16 L1782.77,187.54 L1784.78,187 L1786.78,186.52 L1788.78,186.1 L1790.78,185.72 L1792.78,185.4 L1794.79,185.11 L1796.79,184.85 L1798.79,184.63 L1800.8,184.43 L1802.8,184.25 L1804.8,184.1 L1807.85,190.58 L1810.9,196.81 L1813.96,202.82 L1817.01,208.61 L1820.06,214.19 L1823.12,219.57 L1826.17,224.74 L1829.22,229.73 L1832.27,234.54 L1835.33,239.17 L1838.38,243.63 L1841.43,247.92 L1844.48,252.06 L1847.54,256.05 L1850.59,259.89 L1853.64,263.59 L1856.69,267.16 L1859.75,270.59 L1862.8,273.9 L1865.85,277.09 L1868.9,280.16 L1871.95,283.12 L1875.01,285.97 L1878.06,288.72 L1881.11,291.37 L1884.16,293.91 L1887.22,296.37 L1890.27,298.74 L1893.32,301.02 L1896.38,303.21 L1899.43,305.33 L1902.48,307.36 L1905.53,309.33 L1908.59,311.22 L1911.64,313.04 L1914.69,314.8 L1917.74,316.49 L1920.8,318.12 L1923.85,319.69 L1926.9,321.2" fill="none" stroke="#48A9DA" stroke-width="3.8" stroke-linejoin="round"/>
<path d="M1682.7,361 L1724.7,361 L1726.7,349.59 L1728.7,339.06 L1730.71,329.34 L1732.71,320.37 L1734.71,312.09 L1736.72,304.44 L1738.72,297.39 L1740.72,290.87 L1742.72,284.86 L1744.72,279.31 L1746.73,274.19 L1748.73,269.47 L1750.73,265.1 L1752.74,261.08 L1754.74,257.36 L1756.74,253.93 L1758.74,250.76 L1760.74,247.84 L1762.75,245.14 L1764.75,242.65 L1766.75,240.35 L1768.76,238.23 L1770.76,236.27 L1772.76,234.46 L1774.76,232.79 L1776.76,231.25 L1778.77,229.83 L1780.77,228.52 L1782.77,227.31 L1784.78,226.19 L1786.78,225.16 L1788.78,224.2 L1790.78,223.32 L1792.78,222.51 L1794.79,221.76 L1796.79,221.07 L1798.79,220.43 L1800.8,219.85 L1802.8,219.3 L1804.8,218.8 L1807.85,223.98 L1810.9,228.98 L1813.96,233.79 L1817.01,238.43 L1820.06,242.89 L1823.12,247.2 L1826.17,251.35 L1829.22,255.34 L1832.27,259.2 L1835.33,262.91 L1838.38,266.48 L1841.43,269.93 L1844.48,273.25 L1847.54,276.45 L1850.59,279.53 L1853.64,282.5 L1856.69,285.36 L1859.75,288.12 L1862.8,290.77 L1865.85,293.33 L1868.9,295.8 L1871.95,298.18 L1875.01,300.47 L1878.06,302.67 L1881.11,304.8 L1884.16,306.85 L1887.22,308.82 L1890.27,310.72 L1893.32,312.56 L1896.38,314.32 L1899.43,316.02 L1902.48,317.66 L1905.53,319.24 L1908.59,320.76 L1911.64,322.23 L1914.69,323.64 L1917.74,325.01 L1920.8,326.32 L1923.85,327.58 L1926.9,328.8" fill="none" stroke="#7632A6" stroke-width="3.8" stroke-linejoin="round"/>
<path d="M1682.7,361 L1724.7,361 L1726.7,354.51 L1728.7,348.4 L1730.71,342.65 L1732.71,337.23 L1734.71,332.13 L1736.72,327.33 L1738.72,322.8 L1740.72,318.54 L1742.72,314.53 L1744.72,310.75 L1746.73,307.2 L1748.73,303.85 L1750.73,300.69 L1752.74,297.72 L1754.74,294.92 L1756.74,292.29 L1758.74,289.81 L1760.74,287.47 L1762.75,285.27 L1764.75,283.2 L1766.75,281.25 L1768.76,279.41 L1770.76,277.68 L1772.76,276.05 L1774.76,274.52 L1776.76,273.07 L1778.77,271.71 L1780.77,270.43 L1782.77,269.22 L1784.78,268.09 L1786.78,267.02 L1788.78,266.01 L1790.78,265.06 L1792.78,264.17 L1794.79,263.33 L1796.79,262.53 L1798.79,261.79 L1800.8,261.08 L1802.8,260.42 L1804.8,259.8 L1807.85,263.47 L1810.9,267.01 L1813.96,270.41 L1817.01,273.7 L1820.06,276.86 L1823.12,279.91 L1826.17,282.85 L1829.22,285.69 L1832.27,288.42 L1835.33,291.05 L1838.38,293.59 L1841.43,296.03 L1844.48,298.39 L1847.54,300.66 L1850.59,302.84 L1853.64,304.95 L1856.69,306.99 L1859.75,308.94 L1862.8,310.83 L1865.85,312.65 L1868.9,314.4 L1871.95,316.09 L1875.01,317.72 L1878.06,319.29 L1881.11,320.8 L1884.16,322.26 L1887.22,323.66 L1890.27,325.02 L1893.32,326.32 L1896.38,327.58 L1899.43,328.79 L1902.48,329.96 L1905.53,331.09 L1908.59,332.17 L1911.64,333.22 L1914.69,334.22 L1917.74,335.19 L1920.8,336.13 L1923.85,337.03 L1926.9,337.9" fill="none" stroke="#DC2A1E" stroke-width="3.8" stroke-linejoin="round"/>
<path d="M1682.7,361 L1724.7,361 L1726.7,357.39 L1728.7,353.95 L1730.71,350.68 L1732.71,347.57 L1734.71,344.62 L1736.72,341.8 L1738.72,339.13 L1740.72,336.58 L1742.72,334.16 L1744.72,331.86 L1746.73,329.67 L1748.73,327.59 L1750.73,325.61 L1752.74,323.72 L1754.74,321.93 L1756.74,320.22 L1758.74,318.6 L1760.74,317.06 L1762.75,315.59 L1764.75,314.2 L1766.75,312.87 L1768.76,311.61 L1770.76,310.41 L1772.76,309.26 L1774.76,308.18 L1776.76,307.14 L1778.77,306.16 L1780.77,305.23 L1782.77,304.34 L1784.78,303.49 L1786.78,302.69 L1788.78,301.92 L1790.78,301.19 L1792.78,300.5 L1794.79,299.84 L1796.79,299.21 L1798.79,298.62 L1800.8,298.05 L1802.8,297.51 L1804.8,297 L1807.85,299.34 L1810.9,301.6 L1813.96,303.77 L1817.01,305.87 L1820.06,307.89 L1823.12,309.83 L1826.17,311.7 L1829.22,313.51 L1832.27,315.25 L1835.33,316.92 L1838.38,318.54 L1841.43,320.09 L1844.48,321.59 L1847.54,323.03 L1850.59,324.42 L1853.64,325.76 L1856.69,327.05 L1859.75,328.29 L1862.8,329.49 L1865.85,330.64 L1868.9,331.75 L1871.95,332.82 L1875.01,333.86 L1878.06,334.85 L1881.11,335.81 L1884.16,336.73 L1887.22,337.62 L1890.27,338.47 L1893.32,339.3 L1896.38,340.09 L1899.43,340.86 L1902.48,341.59 L1905.53,342.3 L1908.59,342.99 L1911.64,343.65 L1914.69,344.28 L1917.74,344.9 L1920.8,345.48 L1923.85,346.05 L1926.9,346.6" fill="none" stroke="#F2E62C" stroke-width="3.8" stroke-linejoin="round"/>
<path d="M1682.7,361 L1724.7,361 L1726.7,359.09 L1728.7,357.26 L1730.71,355.51 L1732.71,353.83 L1734.71,352.22 L1736.72,350.67 L1738.72,349.19 L1740.72,347.77 L1742.72,346.41 L1744.72,345.1 L1746.73,343.85 L1748.73,342.65 L1750.73,341.5 L1752.74,340.39 L1754.74,339.33 L1756.74,338.32 L1758.74,337.35 L1760.74,336.41 L1762.75,335.52 L1764.75,334.66 L1766.75,333.84 L1768.76,333.05 L1770.76,332.29 L1772.76,331.57 L1774.76,330.87 L1776.76,330.21 L1778.77,329.57 L1780.77,328.95 L1782.77,328.37 L1784.78,327.8 L1786.78,327.26 L1788.78,326.74 L1790.78,326.25 L1792.78,325.77 L1794.79,325.32 L1796.79,324.88 L1798.79,324.46 L1800.8,324.06 L1802.8,323.67 L1804.8,323.3 L1807.85,324.68 L1810.9,326.01 L1813.96,327.29 L1817.01,328.52 L1820.06,329.7 L1823.12,330.85 L1826.17,331.95 L1829.22,333.01 L1832.27,334.04 L1835.33,335.02 L1838.38,335.97 L1841.43,336.89 L1844.48,337.77 L1847.54,338.62 L1850.59,339.44 L1853.64,340.22 L1856.69,340.98 L1859.75,341.71 L1862.8,342.42 L1865.85,343.1 L1868.9,343.75 L1871.95,344.38 L1875.01,344.99 L1878.06,345.58 L1881.11,346.14 L1884.16,346.68 L1887.22,347.21 L1890.27,347.71 L1893.32,348.2 L1896.38,348.66 L1899.43,349.12 L1902.48,349.55 L1905.53,349.97 L1908.59,350.37 L1911.64,350.76 L1914.69,351.13 L1917.74,351.5 L1920.8,351.84 L1923.85,352.18 L1926.9,352.5" fill="none" stroke="#86C94E" stroke-width="3.8" stroke-linejoin="round"/>
<path d="M1724.7,361 L1726.7,339.9 L1728.7,321.3 L1730.71,304.9 L1732.71,290.45 L1734.71,277.71 L1736.72,266.48 L1738.72,256.58 L1740.72,247.85 L1742.72,240.16 L1744.72,233.38 L1746.73,227.4 L1748.73,222.13 L1750.73,217.49 L1752.74,213.4 L1754.74,209.79 L1756.74,206.61 L1758.74,203.8 L1760.74,201.33 L1762.75,199.16 L1764.75,197.24 L1766.75,195.54 L1768.76,194.05 L1770.76,192.74 L1772.76,191.58 L1774.76,190.55 L1776.76,189.65 L1778.77,188.86 L1780.77,188.16 L1782.77,187.54 L1784.78,187 L1786.78,186.52 L1788.78,186.1 L1790.78,185.72 L1792.78,185.4 L1794.79,185.11 L1796.79,184.85 L1798.79,184.63 L1800.8,184.43 L1802.8,184.25 L1804.8,184.1 L1807.85,190.58 L1810.9,196.81 L1813.96,202.82 L1817.01,208.61 L1820.06,214.19 L1823.12,219.57 L1826.17,224.74 L1829.22,229.73 L1832.27,234.54 L1835.33,239.17 L1838.38,243.63 L1841.43,247.92 L1844.48,252.06 L1847.54,256.05 L1850.59,259.89 L1853.64,263.59 L1856.69,267.16 L1859.75,270.59 L1862.8,273.9 L1865.85,277.09 L1868.9,280.16 L1871.95,283.12 L1875.01,285.97 L1878.06,288.72 L1881.11,291.37 L1884.16,293.91 L1887.22,296.37 L1890.27,298.74 L1893.32,301.02 L1896.38,303.21 L1899.43,305.33 L1902.48,307.36 L1905.53,309.33 L1908.59,311.22 L1911.64,313.04 L1914.69,314.8 L1917.74,316.49 L1920.8,318.12 L1923.85,319.69 L1926.9,321.2" fill="none" stroke="#000" stroke-width="0.75" stroke-linejoin="round" opacity="0.65" transform="translate(0.7,0.8)"/>
<path d="M1724.7,361 L1726.7,349.59 L1728.7,339.06 L1730.71,329.34 L1732.71,320.37 L1734.71,312.09 L1736.72,304.44 L1738.72,297.39 L1740.72,290.87 L1742.72,284.86 L1744.72,279.31 L1746.73,274.19 L1748.73,269.47 L1750.73,265.1 L1752.74,261.08 L1754.74,257.36 L1756.74,253.93 L1758.74,250.76 L1760.74,247.84 L1762.75,245.14 L1764.75,242.65 L1766.75,240.35 L1768.76,238.23 L1770.76,236.27 L1772.76,234.46 L1774.76,232.79 L1776.76,231.25 L1778.77,229.83 L1780.77,228.52 L1782.77,227.31 L1784.78,226.19 L1786.78,225.16 L1788.78,224.2 L1790.78,223.32 L1792.78,222.51 L1794.79,221.76 L1796.79,221.07 L1798.79,220.43 L1800.8,219.85 L1802.8,219.3 L1804.8,218.8 L1807.85,223.98 L1810.9,228.98 L1813.96,233.79 L1817.01,238.43 L1820.06,242.89 L1823.12,247.2 L1826.17,251.35 L1829.22,255.34 L1832.27,259.2 L1835.33,262.91 L1838.38,266.48 L1841.43,269.93 L1844.48,273.25 L1847.54,276.45 L1850.59,279.53 L1853.64,282.5 L1856.69,285.36 L1859.75,288.12 L1862.8,290.77 L1865.85,293.33 L1868.9,295.8 L1871.95,298.18 L1875.01,300.47 L1878.06,302.67 L1881.11,304.8 L1884.16,306.85 L1887.22,308.82 L1890.27,310.72 L1893.32,312.56 L1896.38,314.32 L1899.43,316.02 L1902.48,317.66 L1905.53,319.24 L1908.59,320.76 L1911.64,322.23 L1914.69,323.64 L1917.74,325.01 L1920.8,326.32 L1923.85,327.58 L1926.9,328.8" fill="none" stroke="#000" stroke-width="0.75" stroke-linejoin="round" opacity="0.65" transform="translate(0.7,0.8)"/>
<path d="M1724.7,361 L1726.7,354.51 L1728.7,348.4 L1730.71,342.65 L1732.71,337.23 L1734.71,332.13 L1736.72,327.33 L1738.72,322.8 L1740.72,318.54 L1742.72,314.53 L1744.72,310.75 L1746.73,307.2 L1748.73,303.85 L1750.73,300.69 L1752.74,297.72 L1754.74,294.92 L1756.74,292.29 L1758.74,289.81 L1760.74,287.47 L1762.75,285.27 L1764.75,283.2 L1766.75,281.25 L1768.76,279.41 L1770.76,277.68 L1772.76,276.05 L1774.76,274.52 L1776.76,273.07 L1778.77,271.71 L1780.77,270.43 L1782.77,269.22 L1784.78,268.09 L1786.78,267.02 L1788.78,266.01 L1790.78,265.06 L1792.78,264.17 L1794.79,263.33 L1796.79,262.53 L1798.79,261.79 L1800.8,261.08 L1802.8,260.42 L1804.8,259.8 L1807.85,263.47 L1810.9,267.01 L1813.96,270.41 L1817.01,273.7 L1820.06,276.86 L1823.12,279.91 L1826.17,282.85 L1829.22,285.69 L1832.27,288.42 L1835.33,291.05 L1838.38,293.59 L1841.43,296.03 L1844.48,298.39 L1847.54,300.66 L1850.59,302.84 L1853.64,304.95 L1856.69,306.99 L1859.75,308.94 L1862.8,310.83 L1865.85,312.65 L1868.9,314.4 L1871.95,316.09 L1875.01,317.72 L1878.06,319.29 L1881.11,320.8 L1884.16,322.26 L1887.22,323.66 L1890.27,325.02 L1893.32,326.32 L1896.38,327.58 L1899.43,328.79 L1902.48,329.96 L1905.53,331.09 L1908.59,332.17 L1911.64,333.22 L1914.69,334.22 L1917.74,335.19 L1920.8,336.13 L1923.85,337.03 L1926.9,337.9" fill="none" stroke="#000" stroke-width="0.75" stroke-linejoin="round" opacity="0.65" transform="translate(0.7,0.8)"/>
<path d="M1724.7,361 L1726.7,357.39 L1728.7,353.95 L1730.71,350.68 L1732.71,347.57 L1734.71,344.62 L1736.72,341.8 L1738.72,339.13 L1740.72,336.58 L1742.72,334.16 L1744.72,331.86 L1746.73,329.67 L1748.73,327.59 L1750.73,325.61 L1752.74,323.72 L1754.74,321.93 L1756.74,320.22 L1758.74,318.6 L1760.74,317.06 L1762.75,315.59 L1764.75,314.2 L1766.75,312.87 L1768.76,311.61 L1770.76,310.41 L1772.76,309.26 L1774.76,308.18 L1776.76,307.14 L1778.77,306.16 L1780.77,305.23 L1782.77,304.34 L1784.78,303.49 L1786.78,302.69 L1788.78,301.92 L1790.78,301.19 L1792.78,300.5 L1794.79,299.84 L1796.79,299.21 L1798.79,298.62 L1800.8,298.05 L1802.8,297.51 L1804.8,297 L1807.85,299.34 L1810.9,301.6 L1813.96,303.77 L1817.01,305.87 L1820.06,307.89 L1823.12,309.83 L1826.17,311.7 L1829.22,313.51 L1832.27,315.25 L1835.33,316.92 L1838.38,318.54 L1841.43,320.09 L1844.48,321.59 L1847.54,323.03 L1850.59,324.42 L1853.64,325.76 L1856.69,327.05 L1859.75,328.29 L1862.8,329.49 L1865.85,330.64 L1868.9,331.75 L1871.95,332.82 L1875.01,333.86 L1878.06,334.85 L1881.11,335.81 L1884.16,336.73 L1887.22,337.62 L1890.27,338.47 L1893.32,339.3 L1896.38,340.09 L1899.43,340.86 L1902.48,341.59 L1905.53,342.3 L1908.59,342.99 L1911.64,343.65 L1914.69,344.28 L1917.74,344.9 L1920.8,345.48 L1923.85,346.05 L1926.9,346.6" fill="none" stroke="#000" stroke-width="0.75" stroke-linejoin="round" opacity="0.65" transform="translate(0.7,0.8)"/>
<path d="M1724.7,361 L1726.7,359.09 L1728.7,357.26 L1730.71,355.51 L1732.71,353.83 L1734.71,352.22 L1736.72,350.67 L1738.72,349.19 L1740.72,347.77 L1742.72,346.41 L1744.72,345.1 L1746.73,343.85 L1748.73,342.65 L1750.73,341.5 L1752.74,340.39 L1754.74,339.33 L1756.74,338.32 L1758.74,337.35 L1760.74,336.41 L1762.75,335.52 L1764.75,334.66 L1766.75,333.84 L1768.76,333.05 L1770.76,332.29 L1772.76,331.57 L1774.76,330.87 L1776.76,330.21 L1778.77,329.57 L1780.77,328.95 L1782.77,328.37 L1784.78,327.8 L1786.78,327.26 L1788.78,326.74 L1790.78,326.25 L1792.78,325.77 L1794.79,325.32 L1796.79,324.88 L1798.79,324.46 L1800.8,324.06 L1802.8,323.67 L1804.8,323.3 L1807.85,324.68 L1810.9,326.01 L1813.96,327.29 L1817.01,328.52 L1820.06,329.7 L1823.12,330.85 L1826.17,331.95 L1829.22,333.01 L1832.27,334.04 L1835.33,335.02 L1838.38,335.97 L1841.43,336.89 L1844.48,337.77 L1847.54,338.62 L1850.59,339.44 L1853.64,340.22 L1856.69,340.98 L1859.75,341.71 L1862.8,342.42 L1865.85,343.1 L1868.9,343.75 L1871.95,344.38 L1875.01,344.99 L1878.06,345.58 L1881.11,346.14 L1884.16,346.68 L1887.22,347.21 L1890.27,347.71 L1893.32,348.2 L1896.38,348.66 L1899.43,349.12 L1902.48,349.55 L1905.53,349.97 L1908.59,350.37 L1911.64,350.76 L1914.69,351.13 L1917.74,351.5 L1920.8,351.84 L1923.85,352.18 L1926.9,352.5" fill="none" stroke="#000" stroke-width="0.75" stroke-linejoin="round" opacity="0.65" transform="translate(0.7,0.8)"/>
<path d="M1803.2,184.6 L1804.8,179.1 L1806.4,184.6 Z" fill="#48A9DA"/>
<path d="M1803.2,219.3 L1804.8,213.8 L1806.4,219.3 Z" fill="#7632A6"/>
<path d="M1803.2,260.3 L1804.8,254.8 L1806.4,260.3 Z" fill="#DC2A1E"/>
<path d="M1803.2,323.8 L1804.8,318.3 L1806.4,323.8 Z" fill="#86C94E"/>
<path d="M1723.1,360.5 L1724.7,366.5 L1726.3,360.5 Z" fill="#48A9DA"/>
<text transform="translate(1167.5,270.6) rotate(-90) scale(1,1.02)" font-size="28.8" font-weight="bold" text-anchor="middle" fill="#000">Response (RU)</text>
<line x1="135.3" y1="719.5" x2="135.3" y2="962.6" stroke="#000" stroke-width="3.6" stroke-linecap="butt"/>
<line x1="118.6" y1="960.8" x2="135.3" y2="960.8" stroke="#000" stroke-width="3.6" stroke-linecap="butt"/>
<text transform="translate(102.8,970.8) scale(1.03,1.1)" font-size="28" font-weight="bold" text-anchor="end" fill="#000">0</text>
<line x1="118.6" y1="880.96" x2="135.3" y2="880.96" stroke="#000" stroke-width="3.6" stroke-linecap="butt"/>
<text transform="translate(102.8,890.96) scale(1.03,1.1)" font-size="28" font-weight="bold" text-anchor="end" fill="#000">50</text>
<line x1="118.6" y1="801.13" x2="135.3" y2="801.13" stroke="#000" stroke-width="3.6" stroke-linecap="butt"/>
<text transform="translate(102.8,811.13) scale(1.03,1.1)" font-size="28" font-weight="bold" text-anchor="end" fill="#000">100</text>
<line x1="118.6" y1="721.29" x2="135.3" y2="721.29" stroke="#000" stroke-width="3.6" stroke-linecap="butt"/>
<text transform="translate(102.8,731.29) scale(1.03,1.1)" font-size="28" font-weight="bold" text-anchor="end" fill="#000">150</text>
<line x1="126" y1="920.88" x2="135.3" y2="920.88" stroke="#000" stroke-width="3.6" stroke-linecap="butt"/>
<line x1="126" y1="841.05" x2="135.3" y2="841.05" stroke="#000" stroke-width="3.6" stroke-linecap="butt"/>
<line x1="126" y1="761.21" x2="135.3" y2="761.21" stroke="#000" stroke-width="3.6" stroke-linecap="butt"/>
<line x1="118.6" y1="960.8" x2="478.6" y2="960.8" stroke="#000" stroke-width="3.6" stroke-linecap="butt"/>
<line x1="165.7" y1="960.8" x2="165.7" y2="977.8" stroke="#000" stroke-width="3.6" stroke-linecap="butt"/>
<text transform="translate(164.7,1016.2) scale(1.03,1.1)" font-size="28" font-weight="bold" text-anchor="middle" fill="#000">−6</text>
<line x1="227.92" y1="960.8" x2="227.92" y2="977.8" stroke="#000" stroke-width="3.6" stroke-linecap="butt"/>
<text transform="translate(226.92,1016.2) scale(1.03,1.1)" font-size="28" font-weight="bold" text-anchor="middle" fill="#000">−5</text>
<line x1="290.14" y1="960.8" x2="290.14" y2="977.8" stroke="#000" stroke-width="3.6" stroke-linecap="butt"/>
<text transform="translate(289.14,1016.2) scale(1.03,1.1)" font-size="28" font-weight="bold" text-anchor="middle" fill="#000">−4</text>
<line x1="352.36" y1="960.8" x2="352.36" y2="977.8" stroke="#000" stroke-width="3.6" stroke-linecap="butt"/>
<text transform="translate(351.36,1016.2) scale(1.03,1.1)" font-size="28" font-weight="bold" text-anchor="middle" fill="#000">−3</text>
<line x1="414.58" y1="960.8" x2="414.58" y2="977.8" stroke="#000" stroke-width="3.6" stroke-linecap="butt"/>
<text transform="translate(413.58,1016.2) scale(1.03,1.1)" font-size="28" font-weight="bold" text-anchor="middle" fill="#000">−2</text>
<line x1="476.8" y1="960.8" x2="476.8" y2="977.8" stroke="#000" stroke-width="3.6" stroke-linecap="butt"/>
<text transform="translate(475.8,1016.2) scale(1.03,1.1)" font-size="28" font-weight="bold" text-anchor="middle" fill="#000">−1</text>
<line x1="143.3" y1="880.96" x2="471.8" y2="880.96" stroke="#000" stroke-width="4" stroke-linecap="round" stroke-dasharray="0 7.9"/>
<text transform="translate(306.5,714.3) scale(1,1.05)" font-size="28" font-weight="bold" text-anchor="middle" fill="#000">Healthy plasma</text>
<text transform="translate(306.5,1062.6) scale(1,1.05)" font-size="28" font-weight="bold" text-anchor="middle" fill="#000">Plasma dilution (log10)</text>
<line x1="227.92" y1="817.1" x2="227.92" y2="797.94" stroke="#A6A6A6" stroke-width="3.4" stroke-linecap="butt"/>
<line x1="220.12" y1="817.1" x2="235.72" y2="817.1" stroke="#A6A6A6" stroke-width="3.6" stroke-linecap="round"/>
<line x1="220.12" y1="797.94" x2="235.72" y2="797.94" stroke="#A6A6A6" stroke-width="3.6" stroke-linecap="round"/>
<line x1="290.14" y1="789.95" x2="290.14" y2="773.99" stroke="#A6A6A6" stroke-width="3.4" stroke-linecap="butt"/>
<line x1="282.34" y1="789.95" x2="297.94" y2="789.95" stroke="#A6A6A6" stroke-width="3.6" stroke-linecap="round"/>
<line x1="282.34" y1="773.99" x2="297.94" y2="773.99" stroke="#A6A6A6" stroke-width="3.6" stroke-linecap="round"/>
<line x1="321.25" y1="785.16" x2="321.25" y2="772.39" stroke="#A6A6A6" stroke-width="3.4" stroke-linecap="butt"/>
<line x1="313.45" y1="785.16" x2="329.05" y2="785.16" stroke="#A6A6A6" stroke-width="3.6" stroke-linecap="round"/>
<line x1="313.45" y1="772.39" x2="329.05" y2="772.39" stroke="#A6A6A6" stroke-width="3.6" stroke-linecap="round"/>
<line x1="352.36" y1="775.58" x2="352.36" y2="762.01" stroke="#A6A6A6" stroke-width="3.4" stroke-linecap="butt"/>
<line x1="344.56" y1="775.58" x2="360.16" y2="775.58" stroke="#A6A6A6" stroke-width="3.6" stroke-linecap="round"/>
<line x1="344.56" y1="762.01" x2="360.16" y2="762.01" stroke="#A6A6A6" stroke-width="3.6" stroke-linecap="round"/>
<line x1="414.58" y1="843.76" x2="414.58" y2="807.52" stroke="#A6A6A6" stroke-width="3.4" stroke-linecap="butt"/>
<line x1="406.78" y1="843.76" x2="422.38" y2="843.76" stroke="#A6A6A6" stroke-width="3.6" stroke-linecap="round"/>
<line x1="406.78" y1="807.52" x2="422.38" y2="807.52" stroke="#A6A6A6" stroke-width="3.6" stroke-linecap="round"/>
<path d="M165.7,801.13 L227.92,807.52 L259.03,778.78 L290.14,781.97 L321.25,778.78 L352.36,768.72 L383.47,795.54 L414.58,825.72 L445.69,850.63" fill="none" stroke="#A6A6A6" stroke-width="4.2" stroke-linejoin="round"/>
<path d="M157.5,794.03 L173.9,794.03 L165.7,810.23 Z" fill="#A6A6A6"/>
<path d="M219.72,800.42 L236.12,800.42 L227.92,816.62 Z" fill="#A6A6A6"/>
<path d="M250.83,771.68 L267.23,771.68 L259.03,787.88 Z" fill="#A6A6A6"/>
<path d="M281.94,774.87 L298.34,774.87 L290.14,791.07 Z" fill="#A6A6A6"/>
<path d="M313.05,771.68 L329.45,771.68 L321.25,787.88 Z" fill="#A6A6A6"/>
<path d="M344.16,761.62 L360.56,761.62 L352.36,777.82 Z" fill="#A6A6A6"/>
<path d="M375.27,788.44 L391.67,788.44 L383.47,804.64 Z" fill="#A6A6A6"/>
<path d="M406.38,818.62 L422.78,818.62 L414.58,834.82 Z" fill="#A6A6A6"/>
<path d="M437.49,843.53 L453.89,843.53 L445.69,859.73 Z" fill="#A6A6A6"/>
<line x1="227.92" y1="777.18" x2="227.92" y2="730.08" stroke="#78D7FF" stroke-width="3.4" stroke-linecap="butt"/>
<line x1="220.12" y1="777.18" x2="235.72" y2="777.18" stroke="#78D7FF" stroke-width="3.6" stroke-linecap="round"/>
<line x1="220.12" y1="730.08" x2="235.72" y2="730.08" stroke="#78D7FF" stroke-width="3.6" stroke-linecap="round"/>
<line x1="259.03" y1="796.34" x2="259.03" y2="757.86" stroke="#78D7FF" stroke-width="3.4" stroke-linecap="butt"/>
<line x1="251.23" y1="796.34" x2="266.83" y2="796.34" stroke="#78D7FF" stroke-width="3.6" stroke-linecap="round"/>
<line x1="251.23" y1="757.86" x2="266.83" y2="757.86" stroke="#78D7FF" stroke-width="3.6" stroke-linecap="round"/>
<line x1="290.14" y1="819.65" x2="290.14" y2="770.15" stroke="#78D7FF" stroke-width="3.4" stroke-linecap="butt"/>
<line x1="282.34" y1="819.65" x2="297.94" y2="819.65" stroke="#78D7FF" stroke-width="3.6" stroke-linecap="round"/>
<line x1="282.34" y1="770.15" x2="297.94" y2="770.15" stroke="#78D7FF" stroke-width="3.6" stroke-linecap="round"/>
<line x1="321.25" y1="813.11" x2="321.25" y2="767.6" stroke="#78D7FF" stroke-width="3.4" stroke-linecap="butt"/>
<line x1="313.45" y1="813.11" x2="329.05" y2="813.11" stroke="#78D7FF" stroke-width="3.6" stroke-linecap="round"/>
<line x1="313.45" y1="767.6" x2="329.05" y2="767.6" stroke="#78D7FF" stroke-width="3.6" stroke-linecap="round"/>
<line x1="352.36" y1="820.29" x2="352.36" y2="804.32" stroke="#78D7FF" stroke-width="3.4" stroke-linecap="butt"/>
<line x1="344.56" y1="820.29" x2="360.16" y2="820.29" stroke="#78D7FF" stroke-width="3.6" stroke-linecap="round"/>
<line x1="344.56" y1="804.32" x2="360.16" y2="804.32" stroke="#78D7FF" stroke-width="3.6" stroke-linecap="round"/>
<line x1="383.47" y1="818.06" x2="383.47" y2="799.53" stroke="#78D7FF" stroke-width="3.4" stroke-linecap="butt"/>
<line x1="375.67" y1="818.06" x2="391.27" y2="818.06" stroke="#78D7FF" stroke-width="3.6" stroke-linecap="round"/>
<line x1="375.67" y1="799.53" x2="391.27" y2="799.53" stroke="#78D7FF" stroke-width="3.6" stroke-linecap="round"/>
<line x1="414.58" y1="809.75" x2="414.58" y2="791.55" stroke="#78D7FF" stroke-width="3.4" stroke-linecap="butt"/>
<line x1="406.78" y1="809.75" x2="422.38" y2="809.75" stroke="#78D7FF" stroke-width="3.6" stroke-linecap="round"/>
<line x1="406.78" y1="791.55" x2="422.38" y2="791.55" stroke="#78D7FF" stroke-width="3.6" stroke-linecap="round"/>
<line x1="445.69" y1="814.06" x2="445.69" y2="789.95" stroke="#78D7FF" stroke-width="3.4" stroke-linecap="butt"/>
<line x1="437.89" y1="814.06" x2="453.49" y2="814.06" stroke="#78D7FF" stroke-width="3.6" stroke-linecap="round"/>
<line x1="437.89" y1="789.95" x2="453.49" y2="789.95" stroke="#78D7FF" stroke-width="3.6" stroke-linecap="round"/>
<path d="M165.7,801.13 L227.92,753.87 L259.03,777.18 L290.14,795.54 L321.25,789.95 L352.36,812.31 L383.47,808.32 L414.58,800.65 L445.69,801.45" fill="none" stroke="#78D7FF" stroke-width="4.2" stroke-linejoin="round"/>
<path d="M165.7,792.03 L173.9,808.23 L157.5,808.23 Z" fill="#78D7FF"/>
<path d="M227.92,744.77 L236.12,760.97 L219.72,760.97 Z" fill="#78D7FF"/>
<path d="M259.03,768.08 L267.23,784.28 L250.83,784.28 Z" fill="#78D7FF"/>
<path d="M290.14,786.44 L298.34,802.64 L281.94,802.64 Z" fill="#78D7FF"/>
<path d="M321.25,780.85 L329.45,797.05 L313.05,797.05 Z" fill="#78D7FF"/>
<path d="M352.36,803.21 L360.56,819.41 L344.16,819.41 Z" fill="#78D7FF"/>
<path d="M383.47,799.22 L391.67,815.42 L375.27,815.42 Z" fill="#78D7FF"/>
<path d="M414.58,791.55 L422.78,807.75 L406.38,807.75 Z" fill="#78D7FF"/>
<path d="M445.69,792.35 L453.89,808.55 L437.49,808.55 Z" fill="#78D7FF"/>
<line x1="227.92" y1="807.04" x2="227.92" y2="764.88" stroke="#FF7F79" stroke-width="3.4" stroke-linecap="butt"/>
<line x1="220.12" y1="807.04" x2="235.72" y2="807.04" stroke="#FF7F79" stroke-width="3.6" stroke-linecap="round"/>
<line x1="220.12" y1="764.88" x2="235.72" y2="764.88" stroke="#FF7F79" stroke-width="3.6" stroke-linecap="round"/>
<line x1="259.03" y1="804" x2="259.03" y2="768.88" stroke="#FF7F79" stroke-width="3.4" stroke-linecap="butt"/>
<line x1="251.23" y1="804" x2="266.83" y2="804" stroke="#FF7F79" stroke-width="3.6" stroke-linecap="round"/>
<line x1="251.23" y1="768.88" x2="266.83" y2="768.88" stroke="#FF7F79" stroke-width="3.6" stroke-linecap="round"/>
<line x1="290.14" y1="827.79" x2="290.14" y2="787.08" stroke="#FF7F79" stroke-width="3.4" stroke-linecap="butt"/>
<line x1="282.34" y1="827.79" x2="297.94" y2="827.79" stroke="#FF7F79" stroke-width="3.6" stroke-linecap="round"/>
<line x1="282.34" y1="787.08" x2="297.94" y2="787.08" stroke="#FF7F79" stroke-width="3.6" stroke-linecap="round"/>
<line x1="321.25" y1="826.04" x2="321.25" y2="761.05" stroke="#FF7F79" stroke-width="3.4" stroke-linecap="butt"/>
<line x1="313.45" y1="826.04" x2="329.05" y2="826.04" stroke="#FF7F79" stroke-width="3.6" stroke-linecap="round"/>
<line x1="313.45" y1="761.05" x2="329.05" y2="761.05" stroke="#FF7F79" stroke-width="3.6" stroke-linecap="round"/>
<line x1="352.36" y1="830.35" x2="352.36" y2="778.78" stroke="#FF7F79" stroke-width="3.4" stroke-linecap="butt"/>
<line x1="344.56" y1="830.35" x2="360.16" y2="830.35" stroke="#FF7F79" stroke-width="3.6" stroke-linecap="round"/>
<line x1="344.56" y1="778.78" x2="360.16" y2="778.78" stroke="#FF7F79" stroke-width="3.6" stroke-linecap="round"/>
<line x1="383.47" y1="852.54" x2="383.47" y2="810.71" stroke="#FF7F79" stroke-width="3.4" stroke-linecap="butt"/>
<line x1="375.67" y1="852.54" x2="391.27" y2="852.54" stroke="#FF7F79" stroke-width="3.6" stroke-linecap="round"/>
<line x1="375.67" y1="810.71" x2="391.27" y2="810.71" stroke="#FF7F79" stroke-width="3.6" stroke-linecap="round"/>
<line x1="414.58" y1="842.48" x2="414.58" y2="801.93" stroke="#FF7F79" stroke-width="3.4" stroke-linecap="butt"/>
<line x1="406.78" y1="842.48" x2="422.38" y2="842.48" stroke="#FF7F79" stroke-width="3.6" stroke-linecap="round"/>
<line x1="406.78" y1="801.93" x2="422.38" y2="801.93" stroke="#FF7F79" stroke-width="3.6" stroke-linecap="round"/>
<line x1="445.69" y1="851.11" x2="445.69" y2="787.24" stroke="#FF7F79" stroke-width="3.4" stroke-linecap="butt"/>
<line x1="437.89" y1="851.11" x2="453.49" y2="851.11" stroke="#FF7F79" stroke-width="3.6" stroke-linecap="round"/>
<line x1="437.89" y1="787.24" x2="453.49" y2="787.24" stroke="#FF7F79" stroke-width="3.6" stroke-linecap="round"/>
<path d="M165.7,801.13 L227.92,785.64 L259.03,786.44 L290.14,807.36 L321.25,793.31 L352.36,803.84 L383.47,831.47 L414.58,822.37 L445.69,819.81" fill="none" stroke="#FF7F79" stroke-width="4.2" stroke-linejoin="round"/>
<rect x="157.5" y="792.93" width="16.4" height="16.4" fill="#FF7F79"/>
<rect x="219.72" y="777.44" width="16.4" height="16.4" fill="#FF7F79"/>
<rect x="250.83" y="778.24" width="16.4" height="16.4" fill="#FF7F79"/>
<rect x="281.94" y="799.16" width="16.4" height="16.4" fill="#FF7F79"/>
<rect x="313.05" y="785.11" width="16.4" height="16.4" fill="#FF7F79"/>
<rect x="344.16" y="795.64" width="16.4" height="16.4" fill="#FF7F79"/>
<rect x="375.27" y="823.27" width="16.4" height="16.4" fill="#FF7F79"/>
<rect x="406.38" y="814.17" width="16.4" height="16.4" fill="#FF7F79"/>
<rect x="437.49" y="811.61" width="16.4" height="16.4" fill="#FF7F79"/>
<line x1="227.92" y1="790.91" x2="227.92" y2="758.34" stroke="#7B7FFF" stroke-width="3.4" stroke-linecap="butt"/>
<line x1="220.12" y1="790.91" x2="235.72" y2="790.91" stroke="#7B7FFF" stroke-width="3.6" stroke-linecap="round"/>
<line x1="220.12" y1="758.34" x2="235.72" y2="758.34" stroke="#7B7FFF" stroke-width="3.6" stroke-linecap="round"/>
<line x1="321.25" y1="777.66" x2="321.25" y2="756.1" stroke="#7B7FFF" stroke-width="3.4" stroke-linecap="butt"/>
<line x1="313.45" y1="777.66" x2="329.05" y2="777.66" stroke="#7B7FFF" stroke-width="3.6" stroke-linecap="round"/>
<line x1="313.45" y1="756.1" x2="329.05" y2="756.1" stroke="#7B7FFF" stroke-width="3.6" stroke-linecap="round"/>
<line x1="352.36" y1="803.84" x2="352.36" y2="758.66" stroke="#7B7FFF" stroke-width="3.4" stroke-linecap="butt"/>
<line x1="344.56" y1="803.84" x2="360.16" y2="803.84" stroke="#7B7FFF" stroke-width="3.6" stroke-linecap="round"/>
<line x1="344.56" y1="758.66" x2="360.16" y2="758.66" stroke="#7B7FFF" stroke-width="3.6" stroke-linecap="round"/>
<line x1="383.47" y1="814.86" x2="383.47" y2="785.96" stroke="#7B7FFF" stroke-width="3.4" stroke-linecap="butt"/>
<line x1="375.67" y1="814.86" x2="391.27" y2="814.86" stroke="#7B7FFF" stroke-width="3.6" stroke-linecap="round"/>
<line x1="375.67" y1="785.96" x2="391.27" y2="785.96" stroke="#7B7FFF" stroke-width="3.6" stroke-linecap="round"/>
<line x1="414.58" y1="804.64" x2="414.58" y2="774.62" stroke="#7B7FFF" stroke-width="3.4" stroke-linecap="butt"/>
<line x1="406.78" y1="804.64" x2="422.38" y2="804.64" stroke="#7B7FFF" stroke-width="3.6" stroke-linecap="round"/>
<line x1="406.78" y1="774.62" x2="422.38" y2="774.62" stroke="#7B7FFF" stroke-width="3.6" stroke-linecap="round"/>
<line x1="445.69" y1="808.95" x2="445.69" y2="776.22" stroke="#7B7FFF" stroke-width="3.4" stroke-linecap="butt"/>
<line x1="437.89" y1="808.95" x2="453.49" y2="808.95" stroke="#7B7FFF" stroke-width="3.6" stroke-linecap="round"/>
<line x1="437.89" y1="776.22" x2="453.49" y2="776.22" stroke="#7B7FFF" stroke-width="3.6" stroke-linecap="round"/>
<path d="M165.7,801.13 L227.92,774.62 L259.03,771.75 L290.14,783.73 L321.25,765.52 L352.36,781.33 L383.47,800.97 L414.58,789.15 L445.69,792.51" fill="none" stroke="#7B7FFF" stroke-width="4.2" stroke-linejoin="round"/>
<circle cx="165.7" cy="801.13" r="8.2" fill="#7B7FFF"/>
<circle cx="227.92" cy="774.62" r="8.2" fill="#7B7FFF"/>
<circle cx="259.03" cy="771.75" r="8.2" fill="#7B7FFF"/>
<circle cx="290.14" cy="783.73" r="8.2" fill="#7B7FFF"/>
<circle cx="321.25" cy="765.52" r="8.2" fill="#7B7FFF"/>
<circle cx="352.36" cy="781.33" r="8.2" fill="#7B7FFF"/>
<circle cx="383.47" cy="800.97" r="8.2" fill="#7B7FFF"/>
<circle cx="414.58" cy="789.15" r="8.2" fill="#7B7FFF"/>
<circle cx="445.69" cy="792.51" r="8.2" fill="#7B7FFF"/>
<line x1="650.1" y1="716.8" x2="650.1" y2="961.4" stroke="#000" stroke-width="3.6" stroke-linecap="butt"/>
<line x1="633.4" y1="959.6" x2="650.1" y2="959.6" stroke="#000" stroke-width="3.6" stroke-linecap="butt"/>
<text transform="translate(617.6,969.6) scale(1.03,1.1)" font-size="28" font-weight="bold" text-anchor="end" fill="#000">0</text>
<line x1="633.4" y1="879.26" x2="650.1" y2="879.26" stroke="#000" stroke-width="3.6" stroke-linecap="butt"/>
<text transform="translate(617.6,889.26) scale(1.03,1.1)" font-size="28" font-weight="bold" text-anchor="end" fill="#000">50</text>
<line x1="633.4" y1="798.93" x2="650.1" y2="798.93" stroke="#000" stroke-width="3.6" stroke-linecap="butt"/>
<text transform="translate(617.6,808.93) scale(1.03,1.1)" font-size="28" font-weight="bold" text-anchor="end" fill="#000">100</text>
<line x1="633.4" y1="718.6" x2="650.1" y2="718.6" stroke="#000" stroke-width="3.6" stroke-linecap="butt"/>
<text transform="translate(617.6,728.6) scale(1.03,1.1)" font-size="28" font-weight="bold" text-anchor="end" fill="#000">150</text>
<line x1="640.8" y1="919.43" x2="650.1" y2="919.43" stroke="#000" stroke-width="3.6" stroke-linecap="butt"/>
<line x1="640.8" y1="839.1" x2="650.1" y2="839.1" stroke="#000" stroke-width="3.6" stroke-linecap="butt"/>
<line x1="640.8" y1="758.76" x2="650.1" y2="758.76" stroke="#000" stroke-width="3.6" stroke-linecap="butt"/>
<line x1="633.4" y1="959.6" x2="996.75" y2="959.6" stroke="#000" stroke-width="3.6" stroke-linecap="butt"/>
<line x1="681.2" y1="959.6" x2="681.2" y2="976.6" stroke="#000" stroke-width="3.6" stroke-linecap="butt"/>
<text transform="translate(680.2,1014.7) scale(1.03,1.1)" font-size="28" font-weight="bold" text-anchor="middle" fill="#000">−6</text>
<line x1="743.95" y1="959.6" x2="743.95" y2="976.6" stroke="#000" stroke-width="3.6" stroke-linecap="butt"/>
<text transform="translate(742.95,1014.7) scale(1.03,1.1)" font-size="28" font-weight="bold" text-anchor="middle" fill="#000">−5</text>
<line x1="806.7" y1="959.6" x2="806.7" y2="976.6" stroke="#000" stroke-width="3.6" stroke-linecap="butt"/>
<text transform="translate(805.7,1014.7) scale(1.03,1.1)" font-size="28" font-weight="bold" text-anchor="middle" fill="#000">−4</text>
<line x1="869.45" y1="959.6" x2="869.45" y2="976.6" stroke="#000" stroke-width="3.6" stroke-linecap="butt"/>
<text transform="translate(868.45,1014.7) scale(1.03,1.1)" font-size="28" font-weight="bold" text-anchor="middle" fill="#000">−3</text>
<line x1="932.2" y1="959.6" x2="932.2" y2="976.6" stroke="#000" stroke-width="3.6" stroke-linecap="butt"/>
<text transform="translate(931.2,1014.7) scale(1.03,1.1)" font-size="28" font-weight="bold" text-anchor="middle" fill="#000">−2</text>
<line x1="994.95" y1="959.6" x2="994.95" y2="976.6" stroke="#000" stroke-width="3.6" stroke-linecap="butt"/>
<text transform="translate(993.95,1014.7) scale(1.03,1.1)" font-size="28" font-weight="bold" text-anchor="middle" fill="#000">−1</text>
<line x1="658.1" y1="879.26" x2="989.95" y2="879.26" stroke="#000" stroke-width="4" stroke-linecap="round" stroke-dasharray="0 7.9"/>
<text transform="translate(823,715.6) scale(1,1.05)" font-size="28" font-weight="bold" text-anchor="middle" fill="#000">Immune plasma A</text>
<text transform="translate(823,1063) scale(1,1.05)" font-size="28" font-weight="bold" text-anchor="middle" fill="#000">Plasma dilution (log10)</text>
<line x1="743.95" y1="820.3" x2="743.95" y2="768.88" stroke="#A6A6A6" stroke-width="3.4" stroke-linecap="butt"/>
<line x1="736.15" y1="820.3" x2="751.75" y2="820.3" stroke="#A6A6A6" stroke-width="3.6" stroke-linecap="round"/>
<line x1="736.15" y1="768.88" x2="751.75" y2="768.88" stroke="#A6A6A6" stroke-width="3.6" stroke-linecap="round"/>
<line x1="775.33" y1="809.86" x2="775.33" y2="778.36" stroke="#A6A6A6" stroke-width="3.4" stroke-linecap="butt"/>
<line x1="767.53" y1="809.86" x2="783.12" y2="809.86" stroke="#A6A6A6" stroke-width="3.6" stroke-linecap="round"/>
<line x1="767.53" y1="778.36" x2="783.12" y2="778.36" stroke="#A6A6A6" stroke-width="3.6" stroke-linecap="round"/>
<line x1="806.7" y1="809.86" x2="806.7" y2="787.84" stroke="#A6A6A6" stroke-width="3.4" stroke-linecap="butt"/>
<line x1="798.9" y1="809.86" x2="814.5" y2="809.86" stroke="#A6A6A6" stroke-width="3.6" stroke-linecap="round"/>
<line x1="798.9" y1="787.84" x2="814.5" y2="787.84" stroke="#A6A6A6" stroke-width="3.6" stroke-linecap="round"/>
<line x1="838.08" y1="807.45" x2="838.08" y2="782.54" stroke="#A6A6A6" stroke-width="3.4" stroke-linecap="butt"/>
<line x1="830.28" y1="807.45" x2="845.88" y2="807.45" stroke="#A6A6A6" stroke-width="3.6" stroke-linecap="round"/>
<line x1="830.28" y1="782.54" x2="845.88" y2="782.54" stroke="#A6A6A6" stroke-width="3.6" stroke-linecap="round"/>
<line x1="869.45" y1="798.29" x2="869.45" y2="777.08" stroke="#A6A6A6" stroke-width="3.4" stroke-linecap="butt"/>
<line x1="861.65" y1="798.29" x2="877.25" y2="798.29" stroke="#A6A6A6" stroke-width="3.6" stroke-linecap="round"/>
<line x1="861.65" y1="777.08" x2="877.25" y2="777.08" stroke="#A6A6A6" stroke-width="3.6" stroke-linecap="round"/>
<line x1="900.83" y1="825.12" x2="900.83" y2="789.13" stroke="#A6A6A6" stroke-width="3.4" stroke-linecap="butt"/>
<line x1="893.03" y1="825.12" x2="908.62" y2="825.12" stroke="#A6A6A6" stroke-width="3.6" stroke-linecap="round"/>
<line x1="893.03" y1="789.13" x2="908.62" y2="789.13" stroke="#A6A6A6" stroke-width="3.6" stroke-linecap="round"/>
<line x1="932.2" y1="848.9" x2="932.2" y2="816.76" stroke="#A6A6A6" stroke-width="3.4" stroke-linecap="butt"/>
<line x1="924.4" y1="848.9" x2="940" y2="848.9" stroke="#A6A6A6" stroke-width="3.6" stroke-linecap="round"/>
<line x1="924.4" y1="816.76" x2="940" y2="816.76" stroke="#A6A6A6" stroke-width="3.6" stroke-linecap="round"/>
<path d="M681.2,798.93 L743.95,794.59 L775.33,793.79 L806.7,798.77 L838.08,792.82 L869.45,786.08 L900.83,805.36 L932.2,829.78 L963.58,870.75" fill="none" stroke="#A6A6A6" stroke-width="4.2" stroke-linejoin="round"/>
<path d="M673,791.83 L689.4,791.83 L681.2,808.03 Z" fill="#A6A6A6"/>
<path d="M735.75,787.49 L752.15,787.49 L743.95,803.69 Z" fill="#A6A6A6"/>
<path d="M767.12,786.69 L783.53,786.69 L775.33,802.89 Z" fill="#A6A6A6"/>
<path d="M798.5,791.67 L814.9,791.67 L806.7,807.87 Z" fill="#A6A6A6"/>
<path d="M829.88,785.72 L846.28,785.72 L838.08,801.92 Z" fill="#A6A6A6"/>
<path d="M861.25,778.98 L877.65,778.98 L869.45,795.18 Z" fill="#A6A6A6"/>
<path d="M892.62,798.26 L909.03,798.26 L900.83,814.46 Z" fill="#A6A6A6"/>
<path d="M924,822.68 L940.4,822.68 L932.2,838.88 Z" fill="#A6A6A6"/>
<path d="M955.38,863.65 L971.78,863.65 L963.58,879.85 Z" fill="#A6A6A6"/>
<line x1="775.33" y1="859.34" x2="775.33" y2="848.74" stroke="#78D7FF" stroke-width="3.4" stroke-linecap="butt"/>
<line x1="767.53" y1="859.34" x2="783.12" y2="859.34" stroke="#78D7FF" stroke-width="3.6" stroke-linecap="round"/>
<line x1="767.53" y1="848.74" x2="783.12" y2="848.74" stroke="#78D7FF" stroke-width="3.6" stroke-linecap="round"/>
<path d="M681.2,798.93 L743.95,845.68 L775.33,854.04 L806.7,861.59 L838.08,901.28 L869.45,931.32 L900.83,949.96 L932.2,957.99 L963.58,959.6" fill="none" stroke="#78D7FF" stroke-width="4.2" stroke-linejoin="round"/>
<path d="M681.2,789.83 L689.4,806.03 L673,806.03 Z" fill="#78D7FF"/>
<path d="M743.95,836.58 L752.15,852.78 L735.75,852.78 Z" fill="#78D7FF"/>
<path d="M775.33,844.94 L783.53,861.14 L767.12,861.14 Z" fill="#78D7FF"/>
<path d="M806.7,852.49 L814.9,868.69 L798.5,868.69 Z" fill="#78D7FF"/>
<path d="M838.08,892.18 L846.28,908.38 L829.88,908.38 Z" fill="#78D7FF"/>
<path d="M869.45,922.22 L877.65,938.42 L861.25,938.42 Z" fill="#78D7FF"/>
<path d="M900.83,940.86 L909.03,957.06 L892.62,957.06 Z" fill="#78D7FF"/>
<path d="M932.2,948.89 L940.4,965.09 L924,965.09 Z" fill="#78D7FF"/>
<path d="M963.58,950.5 L971.78,966.7 L955.38,966.7 Z" fill="#78D7FF"/>
<line x1="743.95" y1="840.7" x2="743.95" y2="796.68" stroke="#FF7F79" stroke-width="3.4" stroke-linecap="butt"/>
<line x1="736.15" y1="840.7" x2="751.75" y2="840.7" stroke="#FF7F79" stroke-width="3.6" stroke-linecap="round"/>
<line x1="736.15" y1="796.68" x2="751.75" y2="796.68" stroke="#FF7F79" stroke-width="3.6" stroke-linecap="round"/>
<line x1="775.33" y1="862.88" x2="775.33" y2="828.01" stroke="#FF7F79" stroke-width="3.4" stroke-linecap="butt"/>
<line x1="767.53" y1="862.88" x2="783.12" y2="862.88" stroke="#FF7F79" stroke-width="3.6" stroke-linecap="round"/>
<line x1="767.53" y1="828.01" x2="783.12" y2="828.01" stroke="#FF7F79" stroke-width="3.6" stroke-linecap="round"/>
<line x1="806.7" y1="875.89" x2="806.7" y2="845.52" stroke="#FF7F79" stroke-width="3.4" stroke-linecap="butt"/>
<line x1="798.9" y1="875.89" x2="814.5" y2="875.89" stroke="#FF7F79" stroke-width="3.6" stroke-linecap="round"/>
<line x1="798.9" y1="845.52" x2="814.5" y2="845.52" stroke="#FF7F79" stroke-width="3.6" stroke-linecap="round"/>
<path d="M681.2,798.93 L743.95,816.28 L775.33,849.86 L806.7,860.79 L838.08,911.08 L869.45,942.41 L900.83,956.71 L932.2,959.6 L963.58,959.6" fill="none" stroke="#FF7F79" stroke-width="4.2" stroke-linejoin="round"/>
<rect x="673" y="790.73" width="16.4" height="16.4" fill="#FF7F79"/>
<rect x="735.75" y="808.08" width="16.4" height="16.4" fill="#FF7F79"/>
<rect x="767.12" y="841.66" width="16.4" height="16.4" fill="#FF7F79"/>
<rect x="798.5" y="852.59" width="16.4" height="16.4" fill="#FF7F79"/>
<rect x="829.88" y="902.88" width="16.4" height="16.4" fill="#FF7F79"/>
<rect x="861.25" y="934.21" width="16.4" height="16.4" fill="#FF7F79"/>
<rect x="892.62" y="948.51" width="16.4" height="16.4" fill="#FF7F79"/>
<rect x="924" y="951.4" width="16.4" height="16.4" fill="#FF7F79"/>
<rect x="955.38" y="951.4" width="16.4" height="16.4" fill="#FF7F79"/>
<line x1="743.95" y1="842.79" x2="743.95" y2="805.2" stroke="#7B7FFF" stroke-width="3.4" stroke-linecap="butt"/>
<line x1="736.15" y1="842.79" x2="751.75" y2="842.79" stroke="#7B7FFF" stroke-width="3.6" stroke-linecap="round"/>
<line x1="736.15" y1="805.2" x2="751.75" y2="805.2" stroke="#7B7FFF" stroke-width="3.6" stroke-linecap="round"/>
<line x1="775.33" y1="845.36" x2="775.33" y2="821.1" stroke="#7B7FFF" stroke-width="3.4" stroke-linecap="butt"/>
<line x1="767.53" y1="845.36" x2="783.12" y2="845.36" stroke="#7B7FFF" stroke-width="3.6" stroke-linecap="round"/>
<line x1="767.53" y1="821.1" x2="783.12" y2="821.1" stroke="#7B7FFF" stroke-width="3.6" stroke-linecap="round"/>
<line x1="869.45" y1="933.57" x2="869.45" y2="917.18" stroke="#7B7FFF" stroke-width="3.4" stroke-linecap="butt"/>
<line x1="861.65" y1="933.57" x2="877.25" y2="933.57" stroke="#7B7FFF" stroke-width="3.6" stroke-linecap="round"/>
<line x1="861.65" y1="917.18" x2="877.25" y2="917.18" stroke="#7B7FFF" stroke-width="3.6" stroke-linecap="round"/>
<path d="M681.2,798.93 L743.95,823.83 L775.33,833.96 L806.7,859.5 L838.08,881.84 L869.45,925.38 L900.83,949.48 L932.2,956.71 L963.58,959.6" fill="none" stroke="#7B7FFF" stroke-width="4.2" stroke-linejoin="round"/>
<circle cx="681.2" cy="798.93" r="8.2" fill="#7B7FFF"/>
<circle cx="743.95" cy="823.83" r="8.2" fill="#7B7FFF"/>
<circle cx="775.33" cy="833.96" r="8.2" fill="#7B7FFF"/>
<circle cx="806.7" cy="859.5" r="8.2" fill="#7B7FFF"/>
<circle cx="838.08" cy="881.84" r="8.2" fill="#7B7FFF"/>
<circle cx="869.45" cy="925.38" r="8.2" fill="#7B7FFF"/>
<circle cx="900.83" cy="949.48" r="8.2" fill="#7B7FFF"/>
<circle cx="932.2" cy="956.71" r="8.2" fill="#7B7FFF"/>
<circle cx="963.58" cy="959.6" r="8.2" fill="#7B7FFF"/>
<line x1="1151.6" y1="718.75" x2="1151.6" y2="963.4" stroke="#000" stroke-width="3.6" stroke-linecap="butt"/>
<line x1="1134.9" y1="961.6" x2="1151.6" y2="961.6" stroke="#000" stroke-width="3.6" stroke-linecap="butt"/>
<text transform="translate(1119.1,971.6) scale(1.03,1.1)" font-size="28" font-weight="bold" text-anchor="end" fill="#000">0</text>
<line x1="1134.9" y1="881.25" x2="1151.6" y2="881.25" stroke="#000" stroke-width="3.6" stroke-linecap="butt"/>
<text transform="translate(1119.1,891.25) scale(1.03,1.1)" font-size="28" font-weight="bold" text-anchor="end" fill="#000">50</text>
<line x1="1134.9" y1="800.9" x2="1151.6" y2="800.9" stroke="#000" stroke-width="3.6" stroke-linecap="butt"/>
<text transform="translate(1119.1,810.9) scale(1.03,1.1)" font-size="28" font-weight="bold" text-anchor="end" fill="#000">100</text>
<line x1="1134.9" y1="720.55" x2="1151.6" y2="720.55" stroke="#000" stroke-width="3.6" stroke-linecap="butt"/>
<text transform="translate(1119.1,730.55) scale(1.03,1.1)" font-size="28" font-weight="bold" text-anchor="end" fill="#000">150</text>
<line x1="1142.3" y1="921.43" x2="1151.6" y2="921.43" stroke="#000" stroke-width="3.6" stroke-linecap="butt"/>
<line x1="1142.3" y1="841.08" x2="1151.6" y2="841.08" stroke="#000" stroke-width="3.6" stroke-linecap="butt"/>
<line x1="1142.3" y1="760.73" x2="1151.6" y2="760.73" stroke="#000" stroke-width="3.6" stroke-linecap="butt"/>
<line x1="1134.9" y1="961.6" x2="1498.4" y2="961.6" stroke="#000" stroke-width="3.6" stroke-linecap="butt"/>
<line x1="1183" y1="961.6" x2="1183" y2="978.6" stroke="#000" stroke-width="3.6" stroke-linecap="butt"/>
<text transform="translate(1182,1016.3) scale(1.03,1.1)" font-size="28" font-weight="bold" text-anchor="middle" fill="#000">−6</text>
<line x1="1245.72" y1="961.6" x2="1245.72" y2="978.6" stroke="#000" stroke-width="3.6" stroke-linecap="butt"/>
<text transform="translate(1244.72,1016.3) scale(1.03,1.1)" font-size="28" font-weight="bold" text-anchor="middle" fill="#000">−5</text>
<line x1="1308.44" y1="961.6" x2="1308.44" y2="978.6" stroke="#000" stroke-width="3.6" stroke-linecap="butt"/>
<text transform="translate(1307.44,1016.3) scale(1.03,1.1)" font-size="28" font-weight="bold" text-anchor="middle" fill="#000">−4</text>
<line x1="1371.16" y1="961.6" x2="1371.16" y2="978.6" stroke="#000" stroke-width="3.6" stroke-linecap="butt"/>
<text transform="translate(1370.16,1016.3) scale(1.03,1.1)" font-size="28" font-weight="bold" text-anchor="middle" fill="#000">−3</text>
<line x1="1433.88" y1="961.6" x2="1433.88" y2="978.6" stroke="#000" stroke-width="3.6" stroke-linecap="butt"/>
<text transform="translate(1432.88,1016.3) scale(1.03,1.1)" font-size="28" font-weight="bold" text-anchor="middle" fill="#000">−2</text>
<line x1="1496.6" y1="961.6" x2="1496.6" y2="978.6" stroke="#000" stroke-width="3.6" stroke-linecap="butt"/>
<text transform="translate(1495.6,1016.3) scale(1.03,1.1)" font-size="28" font-weight="bold" text-anchor="middle" fill="#000">−1</text>
<line x1="1159.6" y1="881.25" x2="1491.6" y2="881.25" stroke="#000" stroke-width="4" stroke-linecap="round" stroke-dasharray="0 7.9"/>
<text transform="translate(1325.2,715.6) scale(1,1.05)" font-size="28" font-weight="bold" text-anchor="middle" fill="#000">Immune plasma B</text>
<text transform="translate(1325.2,1066) scale(1,1.05)" font-size="28" font-weight="bold" text-anchor="middle" fill="#000">Plasma dilution (log10)</text>
<line x1="1277.08" y1="788.04" x2="1277.08" y2="764.58" stroke="#A6A6A6" stroke-width="3.4" stroke-linecap="butt"/>
<line x1="1269.28" y1="788.04" x2="1284.88" y2="788.04" stroke="#A6A6A6" stroke-width="3.6" stroke-linecap="round"/>
<line x1="1269.28" y1="764.58" x2="1284.88" y2="764.58" stroke="#A6A6A6" stroke-width="3.6" stroke-linecap="round"/>
<line x1="1308.44" y1="803.95" x2="1308.44" y2="768.76" stroke="#A6A6A6" stroke-width="3.4" stroke-linecap="butt"/>
<line x1="1300.64" y1="803.95" x2="1316.24" y2="803.95" stroke="#A6A6A6" stroke-width="3.6" stroke-linecap="round"/>
<line x1="1300.64" y1="768.76" x2="1316.24" y2="768.76" stroke="#A6A6A6" stroke-width="3.6" stroke-linecap="round"/>
<line x1="1339.8" y1="800.9" x2="1339.8" y2="776.8" stroke="#A6A6A6" stroke-width="3.4" stroke-linecap="butt"/>
<line x1="1332" y1="800.9" x2="1347.6" y2="800.9" stroke="#A6A6A6" stroke-width="3.6" stroke-linecap="round"/>
<line x1="1332" y1="776.8" x2="1347.6" y2="776.8" stroke="#A6A6A6" stroke-width="3.6" stroke-linecap="round"/>
<path d="M1183,800.9 L1245.72,805.72 L1277.08,772.13 L1308.44,781.29 L1339.8,785.63 L1371.16,771.33 L1402.52,787.24 L1433.88,798.97 L1465.24,836.9" fill="none" stroke="#A6A6A6" stroke-width="4.2" stroke-linejoin="round"/>
<path d="M1174.8,793.8 L1191.2,793.8 L1183,810 Z" fill="#A6A6A6"/>
<path d="M1237.52,798.62 L1253.92,798.62 L1245.72,814.82 Z" fill="#A6A6A6"/>
<path d="M1268.88,765.03 L1285.28,765.03 L1277.08,781.23 Z" fill="#A6A6A6"/>
<path d="M1300.24,774.19 L1316.64,774.19 L1308.44,790.39 Z" fill="#A6A6A6"/>
<path d="M1331.6,778.53 L1348,778.53 L1339.8,794.73 Z" fill="#A6A6A6"/>
<path d="M1362.96,764.23 L1379.36,764.23 L1371.16,780.43 Z" fill="#A6A6A6"/>
<path d="M1394.32,780.14 L1410.72,780.14 L1402.52,796.34 Z" fill="#A6A6A6"/>
<path d="M1425.68,791.87 L1442.08,791.87 L1433.88,808.07 Z" fill="#A6A6A6"/>
<path d="M1457.04,829.8 L1473.44,829.8 L1465.24,846 Z" fill="#A6A6A6"/>
<line x1="1308.44" y1="829.02" x2="1308.44" y2="807.33" stroke="#78D7FF" stroke-width="3.4" stroke-linecap="butt"/>
<line x1="1300.64" y1="829.02" x2="1316.24" y2="829.02" stroke="#78D7FF" stroke-width="3.6" stroke-linecap="round"/>
<line x1="1300.64" y1="807.33" x2="1316.24" y2="807.33" stroke="#78D7FF" stroke-width="3.6" stroke-linecap="round"/>
<path d="M1183,800.9 L1245.72,818.09 L1277.08,826.45 L1308.44,821.79 L1339.8,830.95 L1371.16,844.13 L1402.52,886.87 L1433.88,937.66 L1465.24,955.17" fill="none" stroke="#78D7FF" stroke-width="4.2" stroke-linejoin="round"/>
<path d="M1183,791.8 L1191.2,808 L1174.8,808 Z" fill="#78D7FF"/>
<path d="M1245.72,808.99 L1253.92,825.19 L1237.52,825.19 Z" fill="#78D7FF"/>
<path d="M1277.08,817.35 L1285.28,833.55 L1268.88,833.55 Z" fill="#78D7FF"/>
<path d="M1308.44,812.69 L1316.64,828.89 L1300.24,828.89 Z" fill="#78D7FF"/>
<path d="M1339.8,821.85 L1348,838.05 L1331.6,838.05 Z" fill="#78D7FF"/>
<path d="M1371.16,835.03 L1379.36,851.23 L1362.96,851.23 Z" fill="#78D7FF"/>
<path d="M1402.52,877.77 L1410.72,893.97 L1394.32,893.97 Z" fill="#78D7FF"/>
<path d="M1433.88,928.56 L1442.08,944.76 L1425.68,944.76 Z" fill="#78D7FF"/>
<path d="M1465.24,946.07 L1473.44,962.27 L1457.04,962.27 Z" fill="#78D7FF"/>
<line x1="1245.72" y1="823.08" x2="1245.72" y2="797.2" stroke="#FF7F79" stroke-width="3.4" stroke-linecap="butt"/>
<line x1="1237.92" y1="823.08" x2="1253.52" y2="823.08" stroke="#FF7F79" stroke-width="3.6" stroke-linecap="round"/>
<line x1="1237.92" y1="797.2" x2="1253.52" y2="797.2" stroke="#FF7F79" stroke-width="3.6" stroke-linecap="round"/>
<line x1="1277.08" y1="839.95" x2="1277.08" y2="778.4" stroke="#FF7F79" stroke-width="3.4" stroke-linecap="butt"/>
<line x1="1269.28" y1="839.95" x2="1284.88" y2="839.95" stroke="#FF7F79" stroke-width="3.6" stroke-linecap="round"/>
<line x1="1269.28" y1="778.4" x2="1284.88" y2="778.4" stroke="#FF7F79" stroke-width="3.6" stroke-linecap="round"/>
<line x1="1308.44" y1="845.41" x2="1308.44" y2="805.56" stroke="#FF7F79" stroke-width="3.4" stroke-linecap="butt"/>
<line x1="1300.64" y1="845.41" x2="1316.24" y2="845.41" stroke="#FF7F79" stroke-width="3.6" stroke-linecap="round"/>
<line x1="1300.64" y1="805.56" x2="1316.24" y2="805.56" stroke="#FF7F79" stroke-width="3.6" stroke-linecap="round"/>
<line x1="1339.8" y1="888.32" x2="1339.8" y2="840.75" stroke="#FF7F79" stroke-width="3.4" stroke-linecap="butt"/>
<line x1="1332" y1="888.32" x2="1347.6" y2="888.32" stroke="#FF7F79" stroke-width="3.6" stroke-linecap="round"/>
<line x1="1332" y1="840.75" x2="1347.6" y2="840.75" stroke="#FF7F79" stroke-width="3.6" stroke-linecap="round"/>
<line x1="1371.16" y1="902.14" x2="1371.16" y2="874.66" stroke="#FF7F79" stroke-width="3.4" stroke-linecap="butt"/>
<line x1="1363.36" y1="902.14" x2="1378.96" y2="902.14" stroke="#FF7F79" stroke-width="3.6" stroke-linecap="round"/>
<line x1="1363.36" y1="874.66" x2="1378.96" y2="874.66" stroke="#FF7F79" stroke-width="3.6" stroke-linecap="round"/>
<path d="M1183,800.9 L1245.72,810.22 L1277.08,808.94 L1308.44,825.33 L1339.8,864.22 L1371.16,888.8 L1402.52,933.96 L1433.88,955.17 L1465.24,961.12" fill="none" stroke="#FF7F79" stroke-width="4.2" stroke-linejoin="round"/>
<rect x="1174.8" y="792.7" width="16.4" height="16.4" fill="#FF7F79"/>
<rect x="1237.52" y="802.02" width="16.4" height="16.4" fill="#FF7F79"/>
<rect x="1268.88" y="800.74" width="16.4" height="16.4" fill="#FF7F79"/>
<rect x="1300.24" y="817.13" width="16.4" height="16.4" fill="#FF7F79"/>
<rect x="1331.6" y="856.02" width="16.4" height="16.4" fill="#FF7F79"/>
<rect x="1362.96" y="880.6" width="16.4" height="16.4" fill="#FF7F79"/>
<rect x="1394.32" y="925.76" width="16.4" height="16.4" fill="#FF7F79"/>
<rect x="1425.68" y="946.97" width="16.4" height="16.4" fill="#FF7F79"/>
<rect x="1457.04" y="952.92" width="16.4" height="16.4" fill="#FF7F79"/>
<line x1="1245.72" y1="799.78" x2="1245.72" y2="769.72" stroke="#7B7FFF" stroke-width="3.4" stroke-linecap="butt"/>
<line x1="1237.92" y1="799.78" x2="1253.52" y2="799.78" stroke="#7B7FFF" stroke-width="3.6" stroke-linecap="round"/>
<line x1="1237.92" y1="769.72" x2="1253.52" y2="769.72" stroke="#7B7FFF" stroke-width="3.6" stroke-linecap="round"/>
<line x1="1308.44" y1="815.36" x2="1308.44" y2="772.13" stroke="#7B7FFF" stroke-width="3.4" stroke-linecap="butt"/>
<line x1="1300.64" y1="815.36" x2="1316.24" y2="815.36" stroke="#7B7FFF" stroke-width="3.6" stroke-linecap="round"/>
<line x1="1300.64" y1="772.13" x2="1316.24" y2="772.13" stroke="#7B7FFF" stroke-width="3.6" stroke-linecap="round"/>
<line x1="1339.8" y1="821.15" x2="1339.8" y2="799.78" stroke="#7B7FFF" stroke-width="3.4" stroke-linecap="butt"/>
<line x1="1332" y1="821.15" x2="1347.6" y2="821.15" stroke="#7B7FFF" stroke-width="3.6" stroke-linecap="round"/>
<line x1="1332" y1="799.78" x2="1347.6" y2="799.78" stroke="#7B7FFF" stroke-width="3.6" stroke-linecap="round"/>
<line x1="1402.52" y1="881.25" x2="1402.52" y2="860.52" stroke="#7B7FFF" stroke-width="3.4" stroke-linecap="butt"/>
<line x1="1394.72" y1="881.25" x2="1410.32" y2="881.25" stroke="#7B7FFF" stroke-width="3.6" stroke-linecap="round"/>
<line x1="1394.72" y1="860.52" x2="1410.32" y2="860.52" stroke="#7B7FFF" stroke-width="3.6" stroke-linecap="round"/>
<path d="M1183,800.9 L1245.72,784.67 L1277.08,795.44 L1308.44,793.51 L1339.8,811.51 L1371.16,837.38 L1402.52,870.97 L1433.88,925.44 L1465.24,949.71" fill="none" stroke="#7B7FFF" stroke-width="4.2" stroke-linejoin="round"/>
<circle cx="1183" cy="800.9" r="8.2" fill="#7B7FFF"/>
<circle cx="1245.72" cy="784.67" r="8.2" fill="#7B7FFF"/>
<circle cx="1277.08" cy="795.44" r="8.2" fill="#7B7FFF"/>
<circle cx="1308.44" cy="793.51" r="8.2" fill="#7B7FFF"/>
<circle cx="1339.8" cy="811.51" r="8.2" fill="#7B7FFF"/>
<circle cx="1371.16" cy="837.38" r="8.2" fill="#7B7FFF"/>
<circle cx="1402.52" cy="870.97" r="8.2" fill="#7B7FFF"/>
<circle cx="1433.88" cy="925.44" r="8.2" fill="#7B7FFF"/>
<circle cx="1465.24" cy="949.71" r="8.2" fill="#7B7FFF"/>
<line x1="1637.8" y1="719.9" x2="1637.8" y2="966" stroke="#000" stroke-width="3.6" stroke-linecap="butt"/>
<line x1="1621.1" y1="964.2" x2="1637.8" y2="964.2" stroke="#000" stroke-width="3.6" stroke-linecap="butt"/>
<text transform="translate(1605.3,974.2) scale(1.03,1.1)" font-size="28" font-weight="bold" text-anchor="end" fill="#000">0</text>
<line x1="1621.1" y1="883.37" x2="1637.8" y2="883.37" stroke="#000" stroke-width="3.6" stroke-linecap="butt"/>
<text transform="translate(1605.3,893.37) scale(1.03,1.1)" font-size="28" font-weight="bold" text-anchor="end" fill="#000">50</text>
<line x1="1621.1" y1="802.53" x2="1637.8" y2="802.53" stroke="#000" stroke-width="3.6" stroke-linecap="butt"/>
<text transform="translate(1605.3,812.53) scale(1.03,1.1)" font-size="28" font-weight="bold" text-anchor="end" fill="#000">100</text>
<line x1="1621.1" y1="721.7" x2="1637.8" y2="721.7" stroke="#000" stroke-width="3.6" stroke-linecap="butt"/>
<text transform="translate(1605.3,731.7) scale(1.03,1.1)" font-size="28" font-weight="bold" text-anchor="end" fill="#000">150</text>
<line x1="1628.5" y1="923.78" x2="1637.8" y2="923.78" stroke="#000" stroke-width="3.6" stroke-linecap="butt"/>
<line x1="1628.5" y1="842.95" x2="1637.8" y2="842.95" stroke="#000" stroke-width="3.6" stroke-linecap="butt"/>
<line x1="1628.5" y1="762.11" x2="1637.8" y2="762.11" stroke="#000" stroke-width="3.6" stroke-linecap="butt"/>
<line x1="1621.1" y1="964.2" x2="1986" y2="964.2" stroke="#000" stroke-width="3.6" stroke-linecap="butt"/>
<line x1="1669" y1="964.2" x2="1669" y2="981.2" stroke="#000" stroke-width="3.6" stroke-linecap="butt"/>
<text transform="translate(1668,1019.2) scale(1.03,1.1)" font-size="28" font-weight="bold" text-anchor="middle" fill="#000">−6</text>
<line x1="1732.04" y1="964.2" x2="1732.04" y2="981.2" stroke="#000" stroke-width="3.6" stroke-linecap="butt"/>
<text transform="translate(1731.04,1019.2) scale(1.03,1.1)" font-size="28" font-weight="bold" text-anchor="middle" fill="#000">−5</text>
<line x1="1795.08" y1="964.2" x2="1795.08" y2="981.2" stroke="#000" stroke-width="3.6" stroke-linecap="butt"/>
<text transform="translate(1794.08,1019.2) scale(1.03,1.1)" font-size="28" font-weight="bold" text-anchor="middle" fill="#000">−4</text>
<line x1="1858.12" y1="964.2" x2="1858.12" y2="981.2" stroke="#000" stroke-width="3.6" stroke-linecap="butt"/>
<text transform="translate(1857.12,1019.2) scale(1.03,1.1)" font-size="28" font-weight="bold" text-anchor="middle" fill="#000">−3</text>
<line x1="1921.16" y1="964.2" x2="1921.16" y2="981.2" stroke="#000" stroke-width="3.6" stroke-linecap="butt"/>
<text transform="translate(1920.16,1019.2) scale(1.03,1.1)" font-size="28" font-weight="bold" text-anchor="middle" fill="#000">−2</text>
<line x1="1984.2" y1="964.2" x2="1984.2" y2="981.2" stroke="#000" stroke-width="3.6" stroke-linecap="butt"/>
<text transform="translate(1983.2,1019.2) scale(1.03,1.1)" font-size="28" font-weight="bold" text-anchor="middle" fill="#000">−1</text>
<line x1="1645.8" y1="883.37" x2="1979.2" y2="883.37" stroke="#000" stroke-width="4" stroke-linecap="round" stroke-dasharray="0 7.9"/>
<text transform="translate(1812.3,716.9) scale(1,1.05)" font-size="28" font-weight="bold" text-anchor="middle" fill="#000">Immune plasma C</text>
<text transform="translate(1812.3,1068.3) scale(1,1.05)" font-size="28" font-weight="bold" text-anchor="middle" fill="#000">Plasma dilution (log10)</text>
<line x1="1732.04" y1="813.36" x2="1732.04" y2="786.36" stroke="#A6A6A6" stroke-width="3.4" stroke-linecap="butt"/>
<line x1="1724.24" y1="813.36" x2="1739.84" y2="813.36" stroke="#A6A6A6" stroke-width="3.6" stroke-linecap="round"/>
<line x1="1724.24" y1="786.36" x2="1739.84" y2="786.36" stroke="#A6A6A6" stroke-width="3.6" stroke-linecap="round"/>
<line x1="1763.56" y1="783.94" x2="1763.56" y2="746.43" stroke="#A6A6A6" stroke-width="3.4" stroke-linecap="butt"/>
<line x1="1755.76" y1="783.94" x2="1771.36" y2="783.94" stroke="#A6A6A6" stroke-width="3.6" stroke-linecap="round"/>
<line x1="1755.76" y1="746.43" x2="1771.36" y2="746.43" stroke="#A6A6A6" stroke-width="3.6" stroke-linecap="round"/>
<line x1="1795.08" y1="797.68" x2="1795.08" y2="774.4" stroke="#A6A6A6" stroke-width="3.4" stroke-linecap="butt"/>
<line x1="1787.28" y1="797.68" x2="1802.88" y2="797.68" stroke="#A6A6A6" stroke-width="3.6" stroke-linecap="round"/>
<line x1="1787.28" y1="774.4" x2="1802.88" y2="774.4" stroke="#A6A6A6" stroke-width="3.6" stroke-linecap="round"/>
<line x1="1826.6" y1="816.6" x2="1826.6" y2="775.21" stroke="#A6A6A6" stroke-width="3.4" stroke-linecap="butt"/>
<line x1="1818.8" y1="816.6" x2="1834.4" y2="816.6" stroke="#A6A6A6" stroke-width="3.6" stroke-linecap="round"/>
<line x1="1818.8" y1="775.21" x2="1834.4" y2="775.21" stroke="#A6A6A6" stroke-width="3.6" stroke-linecap="round"/>
<line x1="1858.12" y1="824.68" x2="1858.12" y2="788.46" stroke="#A6A6A6" stroke-width="3.4" stroke-linecap="butt"/>
<line x1="1850.32" y1="824.68" x2="1865.92" y2="824.68" stroke="#A6A6A6" stroke-width="3.6" stroke-linecap="round"/>
<line x1="1850.32" y1="788.46" x2="1865.92" y2="788.46" stroke="#A6A6A6" stroke-width="3.6" stroke-linecap="round"/>
<line x1="1952.68" y1="865.26" x2="1952.68" y2="840.52" stroke="#A6A6A6" stroke-width="3.4" stroke-linecap="butt"/>
<line x1="1944.88" y1="865.26" x2="1960.48" y2="865.26" stroke="#A6A6A6" stroke-width="3.6" stroke-linecap="round"/>
<line x1="1944.88" y1="840.52" x2="1960.48" y2="840.52" stroke="#A6A6A6" stroke-width="3.6" stroke-linecap="round"/>
<path d="M1669,802.53 L1732.04,797.68 L1763.56,762.92 L1795.08,786.36 L1826.6,795.25 L1858.12,804.96 L1889.64,793.64 L1921.16,809.16 L1952.68,850.22" fill="none" stroke="#A6A6A6" stroke-width="4.2" stroke-linejoin="round"/>
<path d="M1660.8,795.43 L1677.2,795.43 L1669,811.63 Z" fill="#A6A6A6"/>
<path d="M1723.84,790.58 L1740.24,790.58 L1732.04,806.78 Z" fill="#A6A6A6"/>
<path d="M1755.36,755.82 L1771.76,755.82 L1763.56,772.02 Z" fill="#A6A6A6"/>
<path d="M1786.88,779.26 L1803.28,779.26 L1795.08,795.46 Z" fill="#A6A6A6"/>
<path d="M1818.4,788.15 L1834.8,788.15 L1826.6,804.35 Z" fill="#A6A6A6"/>
<path d="M1849.92,797.86 L1866.32,797.86 L1858.12,814.06 Z" fill="#A6A6A6"/>
<path d="M1881.44,786.54 L1897.84,786.54 L1889.64,802.74 Z" fill="#A6A6A6"/>
<path d="M1912.96,802.06 L1929.36,802.06 L1921.16,818.26 Z" fill="#A6A6A6"/>
<path d="M1944.48,843.12 L1960.88,843.12 L1952.68,859.32 Z" fill="#A6A6A6"/>
<line x1="1732.04" y1="830.01" x2="1732.04" y2="818.7" stroke="#78D7FF" stroke-width="3.4" stroke-linecap="butt"/>
<line x1="1724.24" y1="830.01" x2="1739.84" y2="830.01" stroke="#78D7FF" stroke-width="3.6" stroke-linecap="round"/>
<line x1="1724.24" y1="818.7" x2="1739.84" y2="818.7" stroke="#78D7FF" stroke-width="3.6" stroke-linecap="round"/>
<line x1="1763.56" y1="841.33" x2="1763.56" y2="817.89" stroke="#78D7FF" stroke-width="3.4" stroke-linecap="butt"/>
<line x1="1755.76" y1="841.33" x2="1771.36" y2="841.33" stroke="#78D7FF" stroke-width="3.6" stroke-linecap="round"/>
<line x1="1755.76" y1="817.89" x2="1771.36" y2="817.89" stroke="#78D7FF" stroke-width="3.6" stroke-linecap="round"/>
<line x1="1795.08" y1="854.26" x2="1795.08" y2="838.1" stroke="#78D7FF" stroke-width="3.4" stroke-linecap="butt"/>
<line x1="1787.28" y1="854.26" x2="1802.88" y2="854.26" stroke="#78D7FF" stroke-width="3.6" stroke-linecap="round"/>
<line x1="1787.28" y1="838.1" x2="1802.88" y2="838.1" stroke="#78D7FF" stroke-width="3.6" stroke-linecap="round"/>
<line x1="1858.12" y1="913.11" x2="1858.12" y2="890.16" stroke="#78D7FF" stroke-width="3.4" stroke-linecap="butt"/>
<line x1="1850.32" y1="913.11" x2="1865.92" y2="913.11" stroke="#78D7FF" stroke-width="3.6" stroke-linecap="round"/>
<line x1="1850.32" y1="890.16" x2="1865.92" y2="890.16" stroke="#78D7FF" stroke-width="3.6" stroke-linecap="round"/>
<path d="M1669,802.53 L1732.04,824.19 L1763.56,832.6 L1795.08,848.44 L1826.6,861.22 L1858.12,905.68 L1889.64,936.55 L1921.16,959.67 L1952.68,965.82" fill="none" stroke="#78D7FF" stroke-width="4.2" stroke-linejoin="round"/>
<path d="M1669,793.43 L1677.2,809.63 L1660.8,809.63 Z" fill="#78D7FF"/>
<path d="M1732.04,815.09 L1740.24,831.29 L1723.84,831.29 Z" fill="#78D7FF"/>
<path d="M1763.56,823.5 L1771.76,839.7 L1755.36,839.7 Z" fill="#78D7FF"/>
<path d="M1795.08,839.34 L1803.28,855.54 L1786.88,855.54 Z" fill="#78D7FF"/>
<path d="M1826.6,852.12 L1834.8,868.32 L1818.4,868.32 Z" fill="#78D7FF"/>
<path d="M1858.12,896.58 L1866.32,912.78 L1849.92,912.78 Z" fill="#78D7FF"/>
<path d="M1889.64,927.45 L1897.84,943.65 L1881.44,943.65 Z" fill="#78D7FF"/>
<path d="M1921.16,950.57 L1929.36,966.77 L1912.96,966.77 Z" fill="#78D7FF"/>
<path d="M1952.68,956.72 L1960.88,972.92 L1944.48,972.92 Z" fill="#78D7FF"/>
<line x1="1732.04" y1="809.16" x2="1732.04" y2="781.51" stroke="#FF7F79" stroke-width="3.4" stroke-linecap="butt"/>
<line x1="1724.24" y1="809.16" x2="1739.84" y2="809.16" stroke="#FF7F79" stroke-width="3.6" stroke-linecap="round"/>
<line x1="1724.24" y1="781.51" x2="1739.84" y2="781.51" stroke="#FF7F79" stroke-width="3.6" stroke-linecap="round"/>
<line x1="1763.56" y1="826.78" x2="1763.56" y2="773.59" stroke="#FF7F79" stroke-width="3.4" stroke-linecap="butt"/>
<line x1="1755.76" y1="826.78" x2="1771.36" y2="826.78" stroke="#FF7F79" stroke-width="3.6" stroke-linecap="round"/>
<line x1="1755.76" y1="773.59" x2="1771.36" y2="773.59" stroke="#FF7F79" stroke-width="3.6" stroke-linecap="round"/>
<line x1="1795.08" y1="821.93" x2="1795.08" y2="800.91" stroke="#FF7F79" stroke-width="3.4" stroke-linecap="butt"/>
<line x1="1787.28" y1="821.93" x2="1802.88" y2="821.93" stroke="#FF7F79" stroke-width="3.6" stroke-linecap="round"/>
<line x1="1787.28" y1="800.91" x2="1802.88" y2="800.91" stroke="#FF7F79" stroke-width="3.6" stroke-linecap="round"/>
<line x1="1826.6" y1="850.22" x2="1826.6" y2="824.52" stroke="#FF7F79" stroke-width="3.4" stroke-linecap="butt"/>
<line x1="1818.8" y1="850.22" x2="1834.4" y2="850.22" stroke="#FF7F79" stroke-width="3.6" stroke-linecap="round"/>
<line x1="1818.8" y1="824.52" x2="1834.4" y2="824.52" stroke="#FF7F79" stroke-width="3.6" stroke-linecap="round"/>
<line x1="1858.12" y1="869.14" x2="1858.12" y2="815.46" stroke="#FF7F79" stroke-width="3.4" stroke-linecap="butt"/>
<line x1="1850.32" y1="869.14" x2="1865.92" y2="869.14" stroke="#FF7F79" stroke-width="3.6" stroke-linecap="round"/>
<line x1="1850.32" y1="815.46" x2="1865.92" y2="815.46" stroke="#FF7F79" stroke-width="3.6" stroke-linecap="round"/>
<line x1="1889.64" y1="916.51" x2="1889.64" y2="884.34" stroke="#FF7F79" stroke-width="3.4" stroke-linecap="butt"/>
<line x1="1881.84" y1="916.51" x2="1897.44" y2="916.51" stroke="#FF7F79" stroke-width="3.6" stroke-linecap="round"/>
<line x1="1881.84" y1="884.34" x2="1897.44" y2="884.34" stroke="#FF7F79" stroke-width="3.6" stroke-linecap="round"/>
<path d="M1669,802.53 L1732.04,795.74 L1763.56,798.16 L1795.08,811.58 L1826.6,837.29 L1858.12,842.62 L1889.64,900.18 L1921.16,945.93 L1952.68,963.39" fill="none" stroke="#FF7F79" stroke-width="4.2" stroke-linejoin="round"/>
<rect x="1660.8" y="794.33" width="16.4" height="16.4" fill="#FF7F79"/>
<rect x="1723.84" y="787.54" width="16.4" height="16.4" fill="#FF7F79"/>
<rect x="1755.36" y="789.96" width="16.4" height="16.4" fill="#FF7F79"/>
<rect x="1786.88" y="803.38" width="16.4" height="16.4" fill="#FF7F79"/>
<rect x="1818.4" y="829.09" width="16.4" height="16.4" fill="#FF7F79"/>
<rect x="1849.92" y="834.42" width="16.4" height="16.4" fill="#FF7F79"/>
<rect x="1881.44" y="891.98" width="16.4" height="16.4" fill="#FF7F79"/>
<rect x="1912.96" y="937.73" width="16.4" height="16.4" fill="#FF7F79"/>
<rect x="1944.48" y="955.19" width="16.4" height="16.4" fill="#FF7F79"/>
<line x1="1732.04" y1="804.96" x2="1732.04" y2="778.12" stroke="#7B7FFF" stroke-width="3.4" stroke-linecap="butt"/>
<line x1="1724.24" y1="804.96" x2="1739.84" y2="804.96" stroke="#7B7FFF" stroke-width="3.6" stroke-linecap="round"/>
<line x1="1724.24" y1="778.12" x2="1739.84" y2="778.12" stroke="#7B7FFF" stroke-width="3.6" stroke-linecap="round"/>
<line x1="1763.56" y1="824.19" x2="1763.56" y2="782.48" stroke="#7B7FFF" stroke-width="3.4" stroke-linecap="butt"/>
<line x1="1755.76" y1="824.19" x2="1771.36" y2="824.19" stroke="#7B7FFF" stroke-width="3.6" stroke-linecap="round"/>
<line x1="1755.76" y1="782.48" x2="1771.36" y2="782.48" stroke="#7B7FFF" stroke-width="3.6" stroke-linecap="round"/>
<line x1="1795.08" y1="823.39" x2="1795.08" y2="799.13" stroke="#7B7FFF" stroke-width="3.4" stroke-linecap="butt"/>
<line x1="1787.28" y1="823.39" x2="1802.88" y2="823.39" stroke="#7B7FFF" stroke-width="3.6" stroke-linecap="round"/>
<line x1="1787.28" y1="799.13" x2="1802.88" y2="799.13" stroke="#7B7FFF" stroke-width="3.6" stroke-linecap="round"/>
<line x1="1826.6" y1="809.97" x2="1826.6" y2="787.33" stroke="#7B7FFF" stroke-width="3.4" stroke-linecap="butt"/>
<line x1="1818.8" y1="809.97" x2="1834.4" y2="809.97" stroke="#7B7FFF" stroke-width="3.6" stroke-linecap="round"/>
<line x1="1818.8" y1="787.33" x2="1834.4" y2="787.33" stroke="#7B7FFF" stroke-width="3.6" stroke-linecap="round"/>
<line x1="1858.12" y1="823.39" x2="1858.12" y2="797.84" stroke="#7B7FFF" stroke-width="3.4" stroke-linecap="butt"/>
<line x1="1850.32" y1="823.39" x2="1865.92" y2="823.39" stroke="#7B7FFF" stroke-width="3.6" stroke-linecap="round"/>
<line x1="1850.32" y1="797.84" x2="1865.92" y2="797.84" stroke="#7B7FFF" stroke-width="3.6" stroke-linecap="round"/>
<line x1="1889.64" y1="869.46" x2="1889.64" y2="845.7" stroke="#7B7FFF" stroke-width="3.4" stroke-linecap="butt"/>
<line x1="1881.84" y1="869.46" x2="1897.44" y2="869.46" stroke="#7B7FFF" stroke-width="3.6" stroke-linecap="round"/>
<line x1="1881.84" y1="845.7" x2="1897.44" y2="845.7" stroke="#7B7FFF" stroke-width="3.6" stroke-linecap="round"/>
<line x1="1921.16" y1="937.52" x2="1921.16" y2="920.23" stroke="#7B7FFF" stroke-width="3.4" stroke-linecap="butt"/>
<line x1="1913.36" y1="937.52" x2="1928.96" y2="937.52" stroke="#7B7FFF" stroke-width="3.6" stroke-linecap="round"/>
<line x1="1913.36" y1="920.23" x2="1928.96" y2="920.23" stroke="#7B7FFF" stroke-width="3.6" stroke-linecap="round"/>
<path d="M1669,802.53 L1732.04,791.54 L1763.56,803.18 L1795.08,812.07 L1826.6,798.16 L1858.12,809.97 L1889.64,857.66 L1921.16,928.63 L1952.68,955.63" fill="none" stroke="#7B7FFF" stroke-width="4.2" stroke-linejoin="round"/>
<circle cx="1669" cy="802.53" r="8.2" fill="#7B7FFF"/>
<circle cx="1732.04" cy="791.54" r="8.2" fill="#7B7FFF"/>
<circle cx="1763.56" cy="803.18" r="8.2" fill="#7B7FFF"/>
<circle cx="1795.08" cy="812.07" r="8.2" fill="#7B7FFF"/>
<circle cx="1826.6" cy="798.16" r="8.2" fill="#7B7FFF"/>
<circle cx="1858.12" cy="809.97" r="8.2" fill="#7B7FFF"/>
<circle cx="1889.64" cy="857.66" r="8.2" fill="#7B7FFF"/>
<circle cx="1921.16" cy="928.63" r="8.2" fill="#7B7FFF"/>
<circle cx="1952.68" cy="955.63" r="8.2" fill="#7B7FFF"/>
<text transform="translate(24,841.6) rotate(-90) scale(1,1.06)" font-size="28" font-weight="bold" text-anchor="middle" fill="#000">Infection (%)</text>
<line x1="564.9" y1="646.6" x2="607.1" y2="646.6" stroke="#7B7FFF" stroke-width="5.6" stroke-linecap="round"/>
<circle cx="586" cy="646.6" r="9.84" fill="#7B7FFF"/>
<text transform="translate(626.5,656.7) scale(1.03,1.06)" font-size="28" font-weight="bold" text-anchor="start" fill="#000">D614</text>
<line x1="805.8" y1="649.1" x2="848.2" y2="649.1" stroke="#FF7F79" stroke-width="5.6" stroke-linecap="round"/>
<rect x="817.16" y="639.26" width="19.68" height="19.68" fill="#FF7F79"/>
<text transform="translate(868,656.7) scale(1.03,1.06)" font-size="28" font-weight="bold" text-anchor="start" fill="#000">G614</text>
<line x1="1063.4" y1="647.2" x2="1106" y2="647.2" stroke="#78D7FF" stroke-width="5.6" stroke-linecap="round"/>
<path d="M1084.7,636.48 L1094.54,655.92 L1074.86,655.92 Z" fill="#78D7FF"/>
<text transform="translate(1125.5,656.7) scale(1.03,1.06)" font-size="28" font-weight="bold" text-anchor="start" fill="#000">FKO</text>
<line x1="1289.4" y1="647.2" x2="1331.4" y2="647.2" stroke="#A6A6A6" stroke-width="5.6" stroke-linecap="round"/>
<path d="M1300.56,638.48 L1320.24,638.48 L1310.4,657.92 Z" fill="#A6A6A6"/>
<text transform="translate(1350.5,656.7) scale(1.05,1.06)" font-size="28" font-weight="bold" text-anchor="start" fill="#000">VSV-G</text>
</svg>
</body></html>
